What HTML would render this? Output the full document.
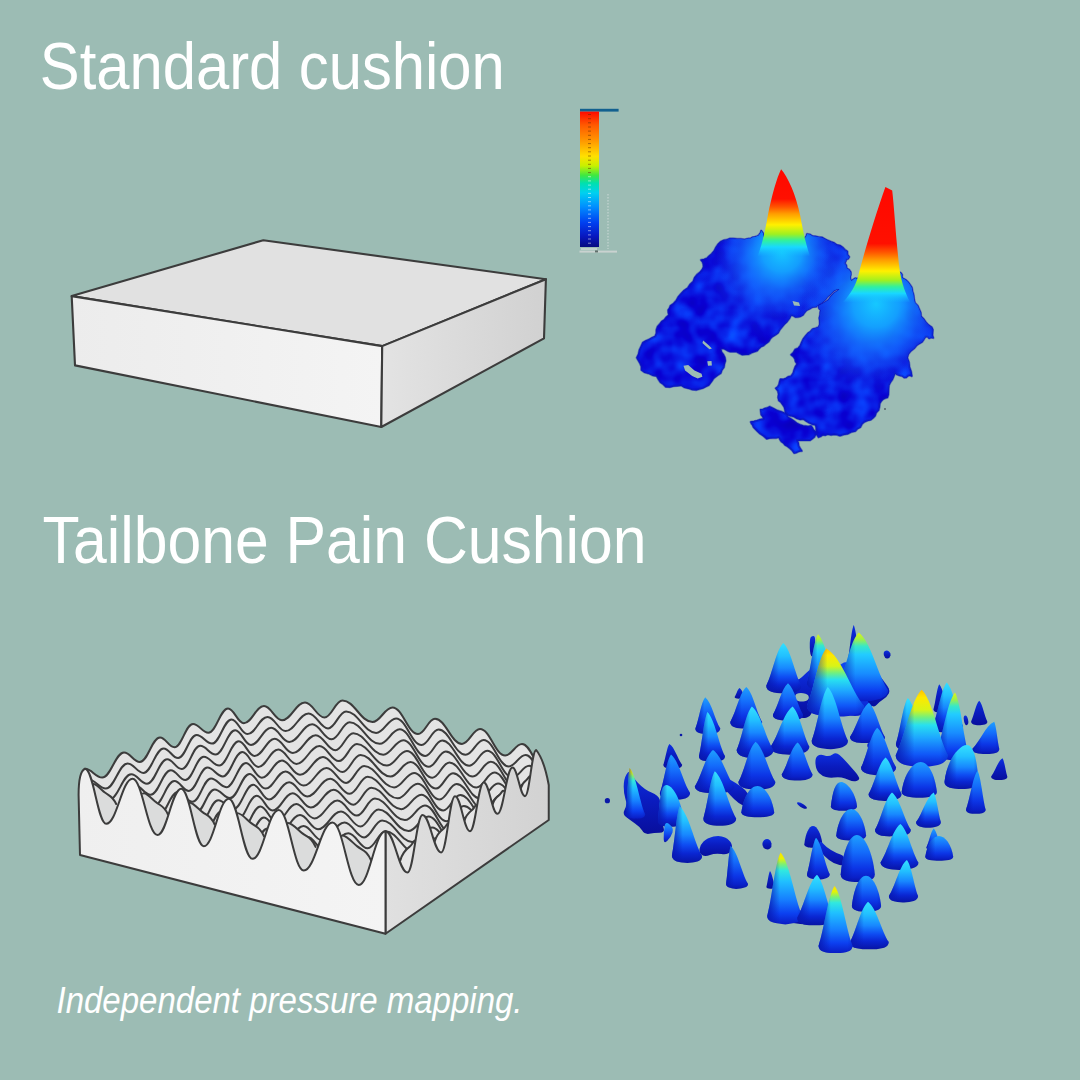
<!DOCTYPE html>
<html lang="en"><head><meta charset="utf-8"><title>Pressure mapping</title>
<style>
html,body{margin:0;padding:0;background:#9cbcb4;}
body{width:1080px;height:1080px;overflow:hidden;position:relative;font-family:"Liberation Sans",sans-serif;}
svg{position:absolute;left:0;top:0;display:block}
.t{font-family:"Liberation Sans",sans-serif;fill:#fff}
</style></head><body>
<svg width="1080" height="1080" viewBox="0 0 1080 1080">
<rect width="1080" height="1080" fill="#9cbcb4"/>
<defs>
<linearGradient id="bxr" x1="0" y1="0" x2="1" y2="0"><stop offset="0" stop-color="#e3e3e3"/><stop offset="1" stop-color="#d1d1d1"/></linearGradient>
<linearGradient id="bxf" x1="0" y1="0" x2="1" y2="0"><stop offset="0" stop-color="#ececec"/><stop offset="1" stop-color="#f4f4f4"/></linearGradient>
<linearGradient id="lg" x1="0" y1="0" x2="0" y2="1">
<stop offset="0" stop-color="#ff0a00"/><stop offset="0.10" stop-color="#ff5a00"/><stop offset="0.22" stop-color="#ff9a00"/>
<stop offset="0.33" stop-color="#ffe000"/><stop offset="0.40" stop-color="#c8f000"/><stop offset="0.47" stop-color="#40e840"/>
<stop offset="0.53" stop-color="#00e0b0"/><stop offset="0.60" stop-color="#00d0f0"/><stop offset="0.70" stop-color="#0090ff"/>
<stop offset="0.82" stop-color="#0040f0"/><stop offset="0.92" stop-color="#0818c0"/><stop offset="1" stop-color="#060a80"/></linearGradient>
<linearGradient id="pk1" gradientUnits="userSpaceOnUse" x1="0" y1="169.3" x2="0" y2="256.3">
<stop offset="0" stop-color="#ff0800"/><stop offset="0.34" stop-color="#ff1000"/><stop offset="0.436" stop-color="#ff5800"/><stop offset="0.51" stop-color="#ff9c00"/><stop offset="0.638" stop-color="#fff000"/>
<stop offset="0.745" stop-color="#a0f020"/><stop offset="0.82" stop-color="#30f0a0"/><stop offset="0.894" stop-color="#18d8ff"/><stop offset="1" stop-color="#16c0ff" stop-opacity="0"/></linearGradient>
<linearGradient id="pk2" gradientUnits="userSpaceOnUse" x1="0" y1="186.85" x2="0" y2="302.6">
<stop offset="0" stop-color="#ff0800"/><stop offset="0.49" stop-color="#ff1000"/><stop offset="0.568" stop-color="#ff5800"/><stop offset="0.632" stop-color="#ff9c00"/><stop offset="0.728" stop-color="#fff000"/>
<stop offset="0.808" stop-color="#a0f020"/><stop offset="0.864" stop-color="#30f0a0"/><stop offset="0.92" stop-color="#18d8ff"/><stop offset="1" stop-color="#16c0ff" stop-opacity="0"/></linearGradient>
<radialGradient id="gl1" gradientUnits="userSpaceOnUse" cx="782" cy="252" r="66">
<stop offset="0" stop-color="#16c8ff"/><stop offset="0.30" stop-color="#14a4ff" stop-opacity="0.95"/><stop offset="0.62" stop-color="#1470ff" stop-opacity="0.6"/><stop offset="1" stop-color="#1240f0" stop-opacity="0"/></radialGradient>
<radialGradient id="gl2" gradientUnits="userSpaceOnUse" cx="876" cy="304" r="77">
<stop offset="0" stop-color="#16c8ff"/><stop offset="0.30" stop-color="#14a4ff" stop-opacity="0.95"/><stop offset="0.62" stop-color="#1470ff" stop-opacity="0.6"/><stop offset="1" stop-color="#1240f0" stop-opacity="0"/></radialGradient>
<radialGradient id="gw1" gradientUnits="userSpaceOnUse" cx="766" cy="274" r="66"><stop offset="0" stop-color="#1a74ff" stop-opacity="0.7"/><stop offset="0.55" stop-color="#1658fa" stop-opacity="0.33"/><stop offset="1" stop-color="#1040f0" stop-opacity="0"/></radialGradient>
<radialGradient id="gw2" gradientUnits="userSpaceOnUse" cx="864" cy="330" r="72"><stop offset="0" stop-color="#1a74ff" stop-opacity="0.7"/><stop offset="0.55" stop-color="#1658fa" stop-opacity="0.33"/><stop offset="1" stop-color="#1040f0" stop-opacity="0"/></radialGradient>
<filter id="mott" x="0" y="0" width="1" height="1" color-interpolation-filters="sRGB">
<feTurbulence type="fractalNoise" baseFrequency="0.055" numOctaves="2" seed="7" result="n"/>
<feColorMatrix in="n" type="matrix" values="0 0 0 0 0.035  0.6 0 0 0 -0.215  0.4 0 0 0 0.68  0 0 0 0 1" result="c"/>
<feComposite in="c" in2="SourceGraphic" operator="in"/>
</filter>
<clipPath id="cpb"><path d="M761.2 230.7 L760.8 232.5 L759.7 233.9 L758.7 235.5 L756.9 236.2 L754.8 236.9 L752.6 237.3 L750.6 238.5 L748.3 238.6 L744.6 239.5 L740.7 239.0 L736.9 239.0 L733.1 238.6 L729.8 238.6 L726.9 239.8 L723.7 240.3 L720.8 241.7 L718.1 244.3 L715.9 247.5 L714.2 251.0 L711.7 253.9 L709.3 256.0 L707.0 258.2 L704.1 259.4 L701.0 260.0 L702.6 261.9 L703.3 264.3 L703.5 266.8 L702.5 269.2 L700.1 272.2 L697.1 274.6 L694.6 277.7 L693.3 281.4 L690.1 284.4 L687.8 288.0 L684.1 290.5 L681.1 293.6 L678.4 296.7 L676.4 300.3 L673.7 303.4 L670.4 305.8 L669.5 308.1 L668.1 310.2 L668.3 312.6 L668.9 315.0 L666.4 317.1 L664.4 319.7 L661.7 321.5 L659.7 324.2 L657.5 326.7 L656.4 329.9 L656.4 333.3 L655.1 336.4 L652.0 337.8 L649.1 339.5 L645.9 340.8 L642.9 342.5 L641.2 346.2 L639.4 350.0 L638.6 354.0 L636.8 357.8 L638.5 360.6 L640.1 363.5 L641.4 366.6 L641.4 370.0 L644.8 372.4 L648.9 373.5 L652.6 375.3 L656.7 376.1 L658.4 379.2 L660.4 382.2 L663.3 384.3 L665.8 386.8 L669.7 387.1 L673.5 386.1 L677.3 385.8 L681.1 385.3 L684.6 387.4 L688.5 388.3 L692.4 389.6 L696.4 389.9 L699.5 389.0 L702.7 388.1 L705.6 386.6 L708.6 385.3 L711.3 381.8 L713.7 378.2 L717.2 375.5 L720.8 373.1 L721.9 369.9 L723.9 367.2 L724.4 364.0 L725.4 360.8 L724.9 357.6 L723.4 354.6 L721.4 351.9 L720.8 348.6 L723.4 348.4 L725.6 349.5 L727.7 350.8 L730.0 351.7 L733.2 351.4 L736.5 351.7 L739.3 353.3 L742.2 354.7 L745.4 354.5 L748.6 354.3 L751.4 352.8 L754.4 351.7 L757.2 350.8 L759.0 348.5 L761.0 346.6 L763.6 345.6 L766.1 343.4 L768.7 341.5 L770.4 338.6 L772.8 336.4 L775.6 334.7 L778.2 332.7 L779.8 329.7 L781.9 327.2 L784.3 324.2 L787.1 321.5 L789.4 318.5 L791.1 315.0 L793.4 315.8 L795.5 317.1 L797.9 316.9 L800.3 316.5 L802.9 315.0 L804.6 312.5 L806.7 310.2 L809.4 308.9 L812.5 307.1 L816.0 306.7 L818.6 304.4 L821.7 302.8 L825.0 300.0 L827.7 296.5 L830.9 293.7 L833.9 290.6 L836.8 289.2 L839.9 288.7 L842.1 286.4 L844.6 284.4 L846.7 283.7 L848.9 284.0 L850.5 282.7 L852.2 281.4 L850.5 279.5 L850.2 277.0 L850.8 274.7 L850.7 272.2 L849.1 269.8 L846.7 268.3 L846.3 265.4 L844.6 263.1 L845.7 261.4 L846.2 259.5 L848.1 258.8 L849.2 256.9 L847.5 254.5 L847.4 251.5 L845.0 249.9 L843.1 247.8 L840.3 245.7 L836.9 244.9 L834.1 242.9 L830.8 241.7 L827.8 240.5 L824.9 239.0 L821.9 237.4 L818.6 237.1 L815.7 236.4 L812.6 236.2 L810.0 234.6 L807.0 234.0 L806.4 236.1 L805.1 237.8 L804.7 240.0 L803.3 241.7 L794.2 241.9 L785.0 242.0 L775.8 242.4 L766.7 241.7 L764.9 239.1 L763.5 236.4 L763.0 233.2Z M858.3 278.3 L857.5 278.6 L856.8 279.2 L856.2 278.4 L855.3 278.3 L852.6 280.1 L850.6 282.5 L847.4 282.8 L844.6 284.4 L841.0 287.3 L837.9 290.8 L834.0 293.2 L830.8 296.7 L828.6 299.9 L825.4 302.1 L822.0 304.0 L818.6 305.8 L819.0 308.3 L820.7 310.2 L820.2 312.6 L820.1 315.0 L819.3 318.0 L819.7 321.2 L819.8 324.3 L818.6 327.2 L815.6 328.2 L812.6 329.1 L810.5 331.5 L807.9 333.3 L805.5 336.1 L803.3 338.9 L801.7 342.2 L800.3 345.6 L798.2 348.2 L795.1 349.5 L793.5 352.4 L791.1 354.7 L793.3 356.5 L794.9 358.8 L795.5 361.6 L797.2 363.9 L795.3 366.7 L794.1 369.9 L793.1 373.3 L791.1 376.1 L788.3 376.8 L786.0 378.3 L783.3 379.3 L780.4 379.2 L779.6 381.6 L779.1 384.2 L777.9 386.6 L775.8 388.3 L777.9 390.9 L778.6 394.1 L778.1 397.4 L778.9 400.6 L781.1 402.3 L782.7 404.6 L784.3 407.0 L785.0 409.7 L785.4 412.1 L787.1 413.7 L788.8 415.3 L791.1 415.8 L794.2 416.8 L797.0 418.4 L800.1 419.4 L803.3 418.9 L806.1 420.9 L809.0 422.8 L812.2 424.2 L815.6 425.0 L816.3 428.1 L816.2 431.3 L816.7 434.6 L818.6 437.2 L820.9 436.3 L822.9 434.8 L825.4 435.2 L827.8 434.2 L830.9 434.9 L834.0 434.3 L837.1 434.7 L840.0 435.7 L843.8 434.5 L847.8 433.8 L851.3 431.9 L855.3 431.1 L857.5 428.6 L860.4 427.1 L861.9 424.1 L864.4 421.9 L867.3 420.6 L870.4 419.9 L872.9 418.0 L875.1 415.8 L876.2 412.6 L878.6 410.1 L879.4 406.9 L879.7 403.6 L881.0 401.4 L882.7 399.5 L884.9 398.2 L887.4 397.5 L888.4 394.6 L888.5 391.4 L888.6 388.4 L888.9 385.3 L890.4 382.2 L892.4 379.4 L893.7 376.2 L895.0 373.1 L897.1 374.5 L899.6 375.4 L902.2 375.9 L904.2 377.6 L906.3 377.4 L907.8 375.9 L909.8 375.2 L911.8 376.1 L911.0 371.4 L909.4 367.0 L908.9 362.2 L907.2 357.8 L908.3 354.0 L910.8 350.9 L913.9 348.6 L916.4 345.6 L919.1 343.6 L922.0 342.0 L923.9 339.2 L925.6 336.4 L927.7 336.7 L929.1 338.3 L931.1 337.4 L933.2 337.9 L932.4 335.3 L932.6 332.5 L932.8 329.8 L931.7 327.2 L928.5 325.1 L925.9 322.3 L923.7 319.2 L921.0 316.5 L920.7 312.7 L919.1 309.1 L917.6 305.6 L914.9 302.8 L914.0 299.0 L913.6 295.1 L912.5 291.3 L911.8 287.5 L910.0 284.8 L908.1 282.1 L905.6 279.8 L902.6 278.3 L901.8 276.6 L902.1 274.8 L901.1 273.2 L899.6 272.2 L889.2 273.3 L879.0 275.3 L868.6 276.2Z M760.6 409.7 L763.0 409.4 L765.2 408.4 L767.6 407.8 L769.7 406.7 L773.5 408.6 L777.2 410.5 L781.2 411.7 L785.0 413.4 L786.7 414.7 L787.7 416.6 L789.3 417.9 L791.1 418.9 L794.0 421.0 L796.8 423.2 L800.0 424.8 L803.3 425.9 L805.3 426.0 L807.2 426.4 L809.1 426.4 L811.0 425.9 L812.4 427.8 L813.4 429.8 L815.1 431.5 L817.1 432.6 L815.5 434.7 L814.3 437.1 L812.2 438.8 L810.1 440.3 L806.8 440.3 L803.6 440.3 L800.4 440.1 L797.2 440.3 L798.3 443.0 L798.7 446.0 L800.2 448.5 L801.8 451.0 L799.8 451.1 L797.9 451.8 L796.1 452.7 L794.2 453.1 L792.4 450.6 L790.1 448.4 L787.7 446.5 L785.0 444.9 L783.4 442.9 L781.3 441.5 L780.0 439.5 L778.9 437.2 L775.9 438.0 L772.8 438.0 L769.7 438.1 L766.7 438.8 L763.6 436.0 L760.2 433.8 L757.3 431.0 L754.4 428.1 L753.2 426.7 L752.7 425.0 L751.5 423.6 L750.8 421.9 L754.0 421.4 L757.2 420.6 L760.4 419.5 L763.6 418.9 L762.8 416.5 L761.2 414.6 L760.9 412.2Z"/></clipPath>
<linearGradient id="egt" gradientUnits="userSpaceOnUse" x1="0" y1="0" x2="0" y2="60"><stop offset="0" stop-color="#e9e9e9"/><stop offset="0.3" stop-color="#e3e3e3"/><stop offset="1" stop-color="#cfd2d2"/></linearGradient>
<linearGradient id="egr" x1="0" y1="0" x2="1" y2="0"><stop offset="0" stop-color="#e0e0e0"/><stop offset="1" stop-color="#d2d2d2"/></linearGradient>
<linearGradient id="egf" x1="0" y1="0" x2="1" y2="0"><stop offset="0" stop-color="#efefef"/><stop offset="1" stop-color="#f4f4f4"/></linearGradient>
<clipPath id="egclip"><path d="M78.8 600 L78.8 795 L80 855 L385.5 933.75 L548.75 820 L548.75 785 L543 764 L536.25 750 L536.25 600Z"/></clipPath>
<linearGradient id="cc" x1="0" y1="0" x2="0" y2="1"><stop offset="0" stop-color="#34e0ff"/><stop offset="0.26" stop-color="#22c0ff"/><stop offset="0.50" stop-color="#1888ff"/><stop offset="0.68" stop-color="#0e4cf2"/><stop offset="0.83" stop-color="#0a26d2"/><stop offset="1" stop-color="#0814a4"/></linearGradient>
<linearGradient id="cb" x1="0" y1="0" x2="0" y2="1"><stop offset="0" stop-color="#1ea0ff"/><stop offset="0.36" stop-color="#146cfb"/><stop offset="0.70" stop-color="#0c36e6"/><stop offset="0.9" stop-color="#0a20c8"/><stop offset="1" stop-color="#0816a8"/></linearGradient>
<linearGradient id="cy" x1="0" y1="0" x2="0" y2="1"><stop offset="0" stop-color="#ffe000"/><stop offset="0.08" stop-color="#e8f400"/><stop offset="0.16" stop-color="#80f070"/><stop offset="0.25" stop-color="#30e8e0"/><stop offset="0.40" stop-color="#20c0ff"/><stop offset="0.65" stop-color="#1680ff"/><stop offset="0.85" stop-color="#0c40f0"/><stop offset="1" stop-color="#0a1cc4"/></linearGradient>
<linearGradient id="cY" x1="0" y1="0" x2="0" y2="1"><stop offset="0" stop-color="#ffc000"/><stop offset="0.10" stop-color="#ffe800"/><stop offset="0.26" stop-color="#d8f418"/><stop offset="0.36" stop-color="#70f080"/><stop offset="0.46" stop-color="#28e0f0"/><stop offset="0.62" stop-color="#1ea8ff"/><stop offset="0.84" stop-color="#1058f8"/><stop offset="1" stop-color="#0a20d0"/></linearGradient>
<linearGradient id="cg" x1="0" y1="0" x2="0" y2="1"><stop offset="0" stop-color="#e0f418"/><stop offset="0.10" stop-color="#a0f048"/><stop offset="0.20" stop-color="#38e8c8"/><stop offset="0.32" stop-color="#22ccff"/><stop offset="0.60" stop-color="#188cff"/><stop offset="0.84" stop-color="#0c40f0"/><stop offset="1" stop-color="#0a1cc4"/></linearGradient>
<linearGradient id="cm" x1="0" y1="0" x2="0" y2="1"><stop offset="0" stop-color="#1048f0"/><stop offset="0.5" stop-color="#0e3cec"/><stop offset="1" stop-color="#0a20c8"/></linearGradient>
<linearGradient id="cd" x1="0" y1="0" x2="0" y2="1"><stop offset="0" stop-color="#0c30e0"/><stop offset="0.45" stop-color="#0a1cc0"/><stop offset="1" stop-color="#080e9c"/></linearGradient>
<linearGradient id="csh" x1="0" y1="0" x2="1" y2="0"><stop offset="0" stop-color="#0818b0" stop-opacity="0.88"/><stop offset="0.16" stop-color="#0818b0" stop-opacity="0.5"/><stop offset="0.36" stop-color="#0818b0" stop-opacity="0"/><stop offset="0.85" stop-color="#0818b0" stop-opacity="0"/><stop offset="1" stop-color="#0818b0" stop-opacity="0.3"/></linearGradient>
</defs>
<text class="t" x="39.8" y="89.3" font-size="66" textLength="465" lengthAdjust="spacingAndGlyphs">Standard cushion</text>
<text class="t" x="42.6" y="562.8" font-size="66" textLength="604" lengthAdjust="spacingAndGlyphs">Tailbone Pain Cushion</text>
<text class="t" x="56.5" y="1013" font-size="36" font-style="italic" textLength="466" lengthAdjust="spacingAndGlyphs">Independent pressure mapping.</text>
<g stroke="#3c3c3c" stroke-width="2.1" stroke-linejoin="round">
<polygon points="71.7,296.1 263.3,240.2 545.9,279.2 382.2,346.1" fill="#e1e1e1"/>
<polygon points="71.7,296.1 382.2,346.1 381.3,427.0 75.0,365.4" fill="url(#bxf)"/>
<polygon points="382.2,346.1 545.9,279.2 544.0,338.4 381.3,427.0" fill="url(#bxr)"/>
</g>
<g>
<rect x="580" y="108.8" width="38.6" height="2.8" fill="#12608f"/>
<rect x="580" y="111.6" width="19" height="135.4" fill="url(#lg)"/>
<rect x="588" y="114.0" width="3" height="1" fill="#5a2a00" opacity="0.5"/><rect x="588" y="118.2" width="3" height="1" fill="#5a2a00" opacity="0.5"/><rect x="588" y="122.3" width="3" height="1" fill="#5a2a00" opacity="0.5"/><rect x="588" y="126.5" width="3" height="1" fill="#5a2a00" opacity="0.5"/><rect x="588" y="130.6" width="3" height="1" fill="#5a2a00" opacity="0.5"/><rect x="588" y="134.8" width="3" height="1" fill="#5a2a00" opacity="0.5"/><rect x="588" y="138.9" width="3" height="1" fill="#5a2a00" opacity="0.5"/><rect x="588" y="143.1" width="3" height="1" fill="#5a2a00" opacity="0.5"/><rect x="588" y="147.2" width="3" height="1" fill="#5a2a00" opacity="0.5"/><rect x="588" y="151.3" width="3" height="1" fill="#5a2a00" opacity="0.5"/><rect x="588" y="155.5" width="3" height="1" fill="#5a2a00" opacity="0.5"/><rect x="588" y="159.7" width="3" height="1" fill="#5a2a00" opacity="0.5"/><rect x="588" y="163.8" width="3" height="1" fill="#5a2a00" opacity="0.5"/><rect x="588" y="167.9" width="3" height="1" fill="#5a2a00" opacity="0.5"/><rect x="588" y="172.1" width="3" height="1" fill="#5a2a00" opacity="0.5"/><rect x="588" y="176.2" width="3" height="1" fill="#fff" opacity="0.5"/><rect x="588" y="180.4" width="3" height="1" fill="#fff" opacity="0.5"/><rect x="588" y="184.6" width="3" height="1" fill="#fff" opacity="0.5"/><rect x="588" y="188.7" width="3" height="1" fill="#fff" opacity="0.5"/><rect x="588" y="192.9" width="3" height="1" fill="#fff" opacity="0.5"/><rect x="588" y="197.0" width="3" height="1" fill="#fff" opacity="0.5"/><rect x="588" y="201.2" width="3" height="1" fill="#fff" opacity="0.5"/><rect x="588" y="205.3" width="3" height="1" fill="#fff" opacity="0.5"/><rect x="588" y="209.4" width="3" height="1" fill="#fff" opacity="0.5"/><rect x="588" y="213.6" width="3" height="1" fill="#fff" opacity="0.5"/><rect x="588" y="217.8" width="3" height="1" fill="#fff" opacity="0.5"/><rect x="588" y="221.9" width="3" height="1" fill="#fff" opacity="0.5"/><rect x="588" y="226.1" width="3" height="1" fill="#fff" opacity="0.5"/><rect x="588" y="230.2" width="3" height="1" fill="#fff" opacity="0.5"/><rect x="588" y="234.4" width="3" height="1" fill="#fff" opacity="0.5"/><rect x="588" y="238.5" width="3" height="1" fill="#fff" opacity="0.5"/><rect x="588" y="242.7" width="3" height="1" fill="#fff" opacity="0.5"/>
<line x1="608" y1="194" x2="608" y2="249" stroke="#e8eeee" stroke-width="0.8" stroke-dasharray="1.5 1.5" opacity="0.8"/>
<rect x="579.5" y="250.6" width="37.5" height="2" fill="#c9d2d0"/>
<rect x="581" y="248.2" width="16" height="1.6" fill="#d4dcda" opacity="0.8"/>
<rect x="595" y="250.4" width="3" height="2" fill="#60706c"/>
</g>
<g>
<path d="M761.2 230.7 L760.8 232.5 L759.7 233.9 L758.7 235.5 L756.9 236.2 L754.8 236.9 L752.6 237.3 L750.6 238.5 L748.3 238.6 L744.6 239.5 L740.7 239.0 L736.9 239.0 L733.1 238.6 L729.8 238.6 L726.9 239.8 L723.7 240.3 L720.8 241.7 L718.1 244.3 L715.9 247.5 L714.2 251.0 L711.7 253.9 L709.3 256.0 L707.0 258.2 L704.1 259.4 L701.0 260.0 L702.6 261.9 L703.3 264.3 L703.5 266.8 L702.5 269.2 L700.1 272.2 L697.1 274.6 L694.6 277.7 L693.3 281.4 L690.1 284.4 L687.8 288.0 L684.1 290.5 L681.1 293.6 L678.4 296.7 L676.4 300.3 L673.7 303.4 L670.4 305.8 L669.5 308.1 L668.1 310.2 L668.3 312.6 L668.9 315.0 L666.4 317.1 L664.4 319.7 L661.7 321.5 L659.7 324.2 L657.5 326.7 L656.4 329.9 L656.4 333.3 L655.1 336.4 L652.0 337.8 L649.1 339.5 L645.9 340.8 L642.9 342.5 L641.2 346.2 L639.4 350.0 L638.6 354.0 L636.8 357.8 L638.5 360.6 L640.1 363.5 L641.4 366.6 L641.4 370.0 L644.8 372.4 L648.9 373.5 L652.6 375.3 L656.7 376.1 L658.4 379.2 L660.4 382.2 L663.3 384.3 L665.8 386.8 L669.7 387.1 L673.5 386.1 L677.3 385.8 L681.1 385.3 L684.6 387.4 L688.5 388.3 L692.4 389.6 L696.4 389.9 L699.5 389.0 L702.7 388.1 L705.6 386.6 L708.6 385.3 L711.3 381.8 L713.7 378.2 L717.2 375.5 L720.8 373.1 L721.9 369.9 L723.9 367.2 L724.4 364.0 L725.4 360.8 L724.9 357.6 L723.4 354.6 L721.4 351.9 L720.8 348.6 L723.4 348.4 L725.6 349.5 L727.7 350.8 L730.0 351.7 L733.2 351.4 L736.5 351.7 L739.3 353.3 L742.2 354.7 L745.4 354.5 L748.6 354.3 L751.4 352.8 L754.4 351.7 L757.2 350.8 L759.0 348.5 L761.0 346.6 L763.6 345.6 L766.1 343.4 L768.7 341.5 L770.4 338.6 L772.8 336.4 L775.6 334.7 L778.2 332.7 L779.8 329.7 L781.9 327.2 L784.3 324.2 L787.1 321.5 L789.4 318.5 L791.1 315.0 L793.4 315.8 L795.5 317.1 L797.9 316.9 L800.3 316.5 L802.9 315.0 L804.6 312.5 L806.7 310.2 L809.4 308.9 L812.5 307.1 L816.0 306.7 L818.6 304.4 L821.7 302.8 L825.0 300.0 L827.7 296.5 L830.9 293.7 L833.9 290.6 L836.8 289.2 L839.9 288.7 L842.1 286.4 L844.6 284.4 L846.7 283.7 L848.9 284.0 L850.5 282.7 L852.2 281.4 L850.5 279.5 L850.2 277.0 L850.8 274.7 L850.7 272.2 L849.1 269.8 L846.7 268.3 L846.3 265.4 L844.6 263.1 L845.7 261.4 L846.2 259.5 L848.1 258.8 L849.2 256.9 L847.5 254.5 L847.4 251.5 L845.0 249.9 L843.1 247.8 L840.3 245.7 L836.9 244.9 L834.1 242.9 L830.8 241.7 L827.8 240.5 L824.9 239.0 L821.9 237.4 L818.6 237.1 L815.7 236.4 L812.6 236.2 L810.0 234.6 L807.0 234.0 L806.4 236.1 L805.1 237.8 L804.7 240.0 L803.3 241.7 L794.2 241.9 L785.0 242.0 L775.8 242.4 L766.7 241.7 L764.9 239.1 L763.5 236.4 L763.0 233.2Z M858.3 278.3 L857.5 278.6 L856.8 279.2 L856.2 278.4 L855.3 278.3 L852.6 280.1 L850.6 282.5 L847.4 282.8 L844.6 284.4 L841.0 287.3 L837.9 290.8 L834.0 293.2 L830.8 296.7 L828.6 299.9 L825.4 302.1 L822.0 304.0 L818.6 305.8 L819.0 308.3 L820.7 310.2 L820.2 312.6 L820.1 315.0 L819.3 318.0 L819.7 321.2 L819.8 324.3 L818.6 327.2 L815.6 328.2 L812.6 329.1 L810.5 331.5 L807.9 333.3 L805.5 336.1 L803.3 338.9 L801.7 342.2 L800.3 345.6 L798.2 348.2 L795.1 349.5 L793.5 352.4 L791.1 354.7 L793.3 356.5 L794.9 358.8 L795.5 361.6 L797.2 363.9 L795.3 366.7 L794.1 369.9 L793.1 373.3 L791.1 376.1 L788.3 376.8 L786.0 378.3 L783.3 379.3 L780.4 379.2 L779.6 381.6 L779.1 384.2 L777.9 386.6 L775.8 388.3 L777.9 390.9 L778.6 394.1 L778.1 397.4 L778.9 400.6 L781.1 402.3 L782.7 404.6 L784.3 407.0 L785.0 409.7 L785.4 412.1 L787.1 413.7 L788.8 415.3 L791.1 415.8 L794.2 416.8 L797.0 418.4 L800.1 419.4 L803.3 418.9 L806.1 420.9 L809.0 422.8 L812.2 424.2 L815.6 425.0 L816.3 428.1 L816.2 431.3 L816.7 434.6 L818.6 437.2 L820.9 436.3 L822.9 434.8 L825.4 435.2 L827.8 434.2 L830.9 434.9 L834.0 434.3 L837.1 434.7 L840.0 435.7 L843.8 434.5 L847.8 433.8 L851.3 431.9 L855.3 431.1 L857.5 428.6 L860.4 427.1 L861.9 424.1 L864.4 421.9 L867.3 420.6 L870.4 419.9 L872.9 418.0 L875.1 415.8 L876.2 412.6 L878.6 410.1 L879.4 406.9 L879.7 403.6 L881.0 401.4 L882.7 399.5 L884.9 398.2 L887.4 397.5 L888.4 394.6 L888.5 391.4 L888.6 388.4 L888.9 385.3 L890.4 382.2 L892.4 379.4 L893.7 376.2 L895.0 373.1 L897.1 374.5 L899.6 375.4 L902.2 375.9 L904.2 377.6 L906.3 377.4 L907.8 375.9 L909.8 375.2 L911.8 376.1 L911.0 371.4 L909.4 367.0 L908.9 362.2 L907.2 357.8 L908.3 354.0 L910.8 350.9 L913.9 348.6 L916.4 345.6 L919.1 343.6 L922.0 342.0 L923.9 339.2 L925.6 336.4 L927.7 336.7 L929.1 338.3 L931.1 337.4 L933.2 337.9 L932.4 335.3 L932.6 332.5 L932.8 329.8 L931.7 327.2 L928.5 325.1 L925.9 322.3 L923.7 319.2 L921.0 316.5 L920.7 312.7 L919.1 309.1 L917.6 305.6 L914.9 302.8 L914.0 299.0 L913.6 295.1 L912.5 291.3 L911.8 287.5 L910.0 284.8 L908.1 282.1 L905.6 279.8 L902.6 278.3 L901.8 276.6 L902.1 274.8 L901.1 273.2 L899.6 272.2 L889.2 273.3 L879.0 275.3 L868.6 276.2Z M760.6 409.7 L763.0 409.4 L765.2 408.4 L767.6 407.8 L769.7 406.7 L773.5 408.6 L777.2 410.5 L781.2 411.7 L785.0 413.4 L786.7 414.7 L787.7 416.6 L789.3 417.9 L791.1 418.9 L794.0 421.0 L796.8 423.2 L800.0 424.8 L803.3 425.9 L805.3 426.0 L807.2 426.4 L809.1 426.4 L811.0 425.9 L812.4 427.8 L813.4 429.8 L815.1 431.5 L817.1 432.6 L815.5 434.7 L814.3 437.1 L812.2 438.8 L810.1 440.3 L806.8 440.3 L803.6 440.3 L800.4 440.1 L797.2 440.3 L798.3 443.0 L798.7 446.0 L800.2 448.5 L801.8 451.0 L799.8 451.1 L797.9 451.8 L796.1 452.7 L794.2 453.1 L792.4 450.6 L790.1 448.4 L787.7 446.5 L785.0 444.9 L783.4 442.9 L781.3 441.5 L780.0 439.5 L778.9 437.2 L775.9 438.0 L772.8 438.0 L769.7 438.1 L766.7 438.8 L763.6 436.0 L760.2 433.8 L757.3 431.0 L754.4 428.1 L753.2 426.7 L752.7 425.0 L751.5 423.6 L750.8 421.9 L754.0 421.4 L757.2 420.6 L760.4 419.5 L763.6 418.9 L762.8 416.5 L761.2 414.6 L760.9 412.2Z" fill="#0a18c8" stroke="#0a18c8" stroke-width="1.2" stroke-linejoin="round"/>
<path d="M761.2 230.7 L760.8 232.5 L759.7 233.9 L758.7 235.5 L756.9 236.2 L754.8 236.9 L752.6 237.3 L750.6 238.5 L748.3 238.6 L744.6 239.5 L740.7 239.0 L736.9 239.0 L733.1 238.6 L729.8 238.6 L726.9 239.8 L723.7 240.3 L720.8 241.7 L718.1 244.3 L715.9 247.5 L714.2 251.0 L711.7 253.9 L709.3 256.0 L707.0 258.2 L704.1 259.4 L701.0 260.0 L702.6 261.9 L703.3 264.3 L703.5 266.8 L702.5 269.2 L700.1 272.2 L697.1 274.6 L694.6 277.7 L693.3 281.4 L690.1 284.4 L687.8 288.0 L684.1 290.5 L681.1 293.6 L678.4 296.7 L676.4 300.3 L673.7 303.4 L670.4 305.8 L669.5 308.1 L668.1 310.2 L668.3 312.6 L668.9 315.0 L666.4 317.1 L664.4 319.7 L661.7 321.5 L659.7 324.2 L657.5 326.7 L656.4 329.9 L656.4 333.3 L655.1 336.4 L652.0 337.8 L649.1 339.5 L645.9 340.8 L642.9 342.5 L641.2 346.2 L639.4 350.0 L638.6 354.0 L636.8 357.8 L638.5 360.6 L640.1 363.5 L641.4 366.6 L641.4 370.0 L644.8 372.4 L648.9 373.5 L652.6 375.3 L656.7 376.1 L658.4 379.2 L660.4 382.2 L663.3 384.3 L665.8 386.8 L669.7 387.1 L673.5 386.1 L677.3 385.8 L681.1 385.3 L684.6 387.4 L688.5 388.3 L692.4 389.6 L696.4 389.9 L699.5 389.0 L702.7 388.1 L705.6 386.6 L708.6 385.3 L711.3 381.8 L713.7 378.2 L717.2 375.5 L720.8 373.1 L721.9 369.9 L723.9 367.2 L724.4 364.0 L725.4 360.8 L724.9 357.6 L723.4 354.6 L721.4 351.9 L720.8 348.6 L723.4 348.4 L725.6 349.5 L727.7 350.8 L730.0 351.7 L733.2 351.4 L736.5 351.7 L739.3 353.3 L742.2 354.7 L745.4 354.5 L748.6 354.3 L751.4 352.8 L754.4 351.7 L757.2 350.8 L759.0 348.5 L761.0 346.6 L763.6 345.6 L766.1 343.4 L768.7 341.5 L770.4 338.6 L772.8 336.4 L775.6 334.7 L778.2 332.7 L779.8 329.7 L781.9 327.2 L784.3 324.2 L787.1 321.5 L789.4 318.5 L791.1 315.0 L793.4 315.8 L795.5 317.1 L797.9 316.9 L800.3 316.5 L802.9 315.0 L804.6 312.5 L806.7 310.2 L809.4 308.9 L812.5 307.1 L816.0 306.7 L818.6 304.4 L821.7 302.8 L825.0 300.0 L827.7 296.5 L830.9 293.7 L833.9 290.6 L836.8 289.2 L839.9 288.7 L842.1 286.4 L844.6 284.4 L846.7 283.7 L848.9 284.0 L850.5 282.7 L852.2 281.4 L850.5 279.5 L850.2 277.0 L850.8 274.7 L850.7 272.2 L849.1 269.8 L846.7 268.3 L846.3 265.4 L844.6 263.1 L845.7 261.4 L846.2 259.5 L848.1 258.8 L849.2 256.9 L847.5 254.5 L847.4 251.5 L845.0 249.9 L843.1 247.8 L840.3 245.7 L836.9 244.9 L834.1 242.9 L830.8 241.7 L827.8 240.5 L824.9 239.0 L821.9 237.4 L818.6 237.1 L815.7 236.4 L812.6 236.2 L810.0 234.6 L807.0 234.0 L806.4 236.1 L805.1 237.8 L804.7 240.0 L803.3 241.7 L794.2 241.9 L785.0 242.0 L775.8 242.4 L766.7 241.7 L764.9 239.1 L763.5 236.4 L763.0 233.2Z M858.3 278.3 L857.5 278.6 L856.8 279.2 L856.2 278.4 L855.3 278.3 L852.6 280.1 L850.6 282.5 L847.4 282.8 L844.6 284.4 L841.0 287.3 L837.9 290.8 L834.0 293.2 L830.8 296.7 L828.6 299.9 L825.4 302.1 L822.0 304.0 L818.6 305.8 L819.0 308.3 L820.7 310.2 L820.2 312.6 L820.1 315.0 L819.3 318.0 L819.7 321.2 L819.8 324.3 L818.6 327.2 L815.6 328.2 L812.6 329.1 L810.5 331.5 L807.9 333.3 L805.5 336.1 L803.3 338.9 L801.7 342.2 L800.3 345.6 L798.2 348.2 L795.1 349.5 L793.5 352.4 L791.1 354.7 L793.3 356.5 L794.9 358.8 L795.5 361.6 L797.2 363.9 L795.3 366.7 L794.1 369.9 L793.1 373.3 L791.1 376.1 L788.3 376.8 L786.0 378.3 L783.3 379.3 L780.4 379.2 L779.6 381.6 L779.1 384.2 L777.9 386.6 L775.8 388.3 L777.9 390.9 L778.6 394.1 L778.1 397.4 L778.9 400.6 L781.1 402.3 L782.7 404.6 L784.3 407.0 L785.0 409.7 L785.4 412.1 L787.1 413.7 L788.8 415.3 L791.1 415.8 L794.2 416.8 L797.0 418.4 L800.1 419.4 L803.3 418.9 L806.1 420.9 L809.0 422.8 L812.2 424.2 L815.6 425.0 L816.3 428.1 L816.2 431.3 L816.7 434.6 L818.6 437.2 L820.9 436.3 L822.9 434.8 L825.4 435.2 L827.8 434.2 L830.9 434.9 L834.0 434.3 L837.1 434.7 L840.0 435.7 L843.8 434.5 L847.8 433.8 L851.3 431.9 L855.3 431.1 L857.5 428.6 L860.4 427.1 L861.9 424.1 L864.4 421.9 L867.3 420.6 L870.4 419.9 L872.9 418.0 L875.1 415.8 L876.2 412.6 L878.6 410.1 L879.4 406.9 L879.7 403.6 L881.0 401.4 L882.7 399.5 L884.9 398.2 L887.4 397.5 L888.4 394.6 L888.5 391.4 L888.6 388.4 L888.9 385.3 L890.4 382.2 L892.4 379.4 L893.7 376.2 L895.0 373.1 L897.1 374.5 L899.6 375.4 L902.2 375.9 L904.2 377.6 L906.3 377.4 L907.8 375.9 L909.8 375.2 L911.8 376.1 L911.0 371.4 L909.4 367.0 L908.9 362.2 L907.2 357.8 L908.3 354.0 L910.8 350.9 L913.9 348.6 L916.4 345.6 L919.1 343.6 L922.0 342.0 L923.9 339.2 L925.6 336.4 L927.7 336.7 L929.1 338.3 L931.1 337.4 L933.2 337.9 L932.4 335.3 L932.6 332.5 L932.8 329.8 L931.7 327.2 L928.5 325.1 L925.9 322.3 L923.7 319.2 L921.0 316.5 L920.7 312.7 L919.1 309.1 L917.6 305.6 L914.9 302.8 L914.0 299.0 L913.6 295.1 L912.5 291.3 L911.8 287.5 L910.0 284.8 L908.1 282.1 L905.6 279.8 L902.6 278.3 L901.8 276.6 L902.1 274.8 L901.1 273.2 L899.6 272.2 L889.2 273.3 L879.0 275.3 L868.6 276.2Z M760.6 409.7 L763.0 409.4 L765.2 408.4 L767.6 407.8 L769.7 406.7 L773.5 408.6 L777.2 410.5 L781.2 411.7 L785.0 413.4 L786.7 414.7 L787.7 416.6 L789.3 417.9 L791.1 418.9 L794.0 421.0 L796.8 423.2 L800.0 424.8 L803.3 425.9 L805.3 426.0 L807.2 426.4 L809.1 426.4 L811.0 425.9 L812.4 427.8 L813.4 429.8 L815.1 431.5 L817.1 432.6 L815.5 434.7 L814.3 437.1 L812.2 438.8 L810.1 440.3 L806.8 440.3 L803.6 440.3 L800.4 440.1 L797.2 440.3 L798.3 443.0 L798.7 446.0 L800.2 448.5 L801.8 451.0 L799.8 451.1 L797.9 451.8 L796.1 452.7 L794.2 453.1 L792.4 450.6 L790.1 448.4 L787.7 446.5 L785.0 444.9 L783.4 442.9 L781.3 441.5 L780.0 439.5 L778.9 437.2 L775.9 438.0 L772.8 438.0 L769.7 438.1 L766.7 438.8 L763.6 436.0 L760.2 433.8 L757.3 431.0 L754.4 428.1 L753.2 426.7 L752.7 425.0 L751.5 423.6 L750.8 421.9 L754.0 421.4 L757.2 420.6 L760.4 419.5 L763.6 418.9 L762.8 416.5 L761.2 414.6 L760.9 412.2Z" fill="#0b22e0" filter="url(#mott)"/>
<path d="M761.2 230.7 L760.8 232.5 L759.7 233.9 L758.7 235.5 L756.9 236.2 L754.8 236.9 L752.6 237.3 L750.6 238.5 L748.3 238.6 L744.6 239.5 L740.7 239.0 L736.9 239.0 L733.1 238.6 L729.8 238.6 L726.9 239.8 L723.7 240.3 L720.8 241.7 L718.1 244.3 L715.9 247.5 L714.2 251.0 L711.7 253.9 L709.3 256.0 L707.0 258.2 L704.1 259.4 L701.0 260.0 L702.6 261.9 L703.3 264.3 L703.5 266.8 L702.5 269.2 L700.1 272.2 L697.1 274.6 L694.6 277.7 L693.3 281.4 L690.1 284.4 L687.8 288.0 L684.1 290.5 L681.1 293.6 L678.4 296.7 L676.4 300.3 L673.7 303.4 L670.4 305.8 L669.5 308.1 L668.1 310.2 L668.3 312.6 L668.9 315.0 L666.4 317.1 L664.4 319.7 L661.7 321.5 L659.7 324.2 L657.5 326.7 L656.4 329.9 L656.4 333.3 L655.1 336.4 L652.0 337.8 L649.1 339.5 L645.9 340.8 L642.9 342.5 L641.2 346.2 L639.4 350.0 L638.6 354.0 L636.8 357.8 L638.5 360.6 L640.1 363.5 L641.4 366.6 L641.4 370.0 L644.8 372.4 L648.9 373.5 L652.6 375.3 L656.7 376.1 L658.4 379.2 L660.4 382.2 L663.3 384.3 L665.8 386.8 L669.7 387.1 L673.5 386.1 L677.3 385.8 L681.1 385.3 L684.6 387.4 L688.5 388.3 L692.4 389.6 L696.4 389.9 L699.5 389.0 L702.7 388.1 L705.6 386.6 L708.6 385.3 L711.3 381.8 L713.7 378.2 L717.2 375.5 L720.8 373.1 L721.9 369.9 L723.9 367.2 L724.4 364.0 L725.4 360.8 L724.9 357.6 L723.4 354.6 L721.4 351.9 L720.8 348.6 L723.4 348.4 L725.6 349.5 L727.7 350.8 L730.0 351.7 L733.2 351.4 L736.5 351.7 L739.3 353.3 L742.2 354.7 L745.4 354.5 L748.6 354.3 L751.4 352.8 L754.4 351.7 L757.2 350.8 L759.0 348.5 L761.0 346.6 L763.6 345.6 L766.1 343.4 L768.7 341.5 L770.4 338.6 L772.8 336.4 L775.6 334.7 L778.2 332.7 L779.8 329.7 L781.9 327.2 L784.3 324.2 L787.1 321.5 L789.4 318.5 L791.1 315.0 L793.4 315.8 L795.5 317.1 L797.9 316.9 L800.3 316.5 L802.9 315.0 L804.6 312.5 L806.7 310.2 L809.4 308.9 L812.5 307.1 L816.0 306.7 L818.6 304.4 L821.7 302.8 L825.0 300.0 L827.7 296.5 L830.9 293.7 L833.9 290.6 L836.8 289.2 L839.9 288.7 L842.1 286.4 L844.6 284.4 L846.7 283.7 L848.9 284.0 L850.5 282.7 L852.2 281.4 L850.5 279.5 L850.2 277.0 L850.8 274.7 L850.7 272.2 L849.1 269.8 L846.7 268.3 L846.3 265.4 L844.6 263.1 L845.7 261.4 L846.2 259.5 L848.1 258.8 L849.2 256.9 L847.5 254.5 L847.4 251.5 L845.0 249.9 L843.1 247.8 L840.3 245.7 L836.9 244.9 L834.1 242.9 L830.8 241.7 L827.8 240.5 L824.9 239.0 L821.9 237.4 L818.6 237.1 L815.7 236.4 L812.6 236.2 L810.0 234.6 L807.0 234.0 L806.4 236.1 L805.1 237.8 L804.7 240.0 L803.3 241.7 L794.2 241.9 L785.0 242.0 L775.8 242.4 L766.7 241.7 L764.9 239.1 L763.5 236.4 L763.0 233.2Z M858.3 278.3 L857.5 278.6 L856.8 279.2 L856.2 278.4 L855.3 278.3 L852.6 280.1 L850.6 282.5 L847.4 282.8 L844.6 284.4 L841.0 287.3 L837.9 290.8 L834.0 293.2 L830.8 296.7 L828.6 299.9 L825.4 302.1 L822.0 304.0 L818.6 305.8 L819.0 308.3 L820.7 310.2 L820.2 312.6 L820.1 315.0 L819.3 318.0 L819.7 321.2 L819.8 324.3 L818.6 327.2 L815.6 328.2 L812.6 329.1 L810.5 331.5 L807.9 333.3 L805.5 336.1 L803.3 338.9 L801.7 342.2 L800.3 345.6 L798.2 348.2 L795.1 349.5 L793.5 352.4 L791.1 354.7 L793.3 356.5 L794.9 358.8 L795.5 361.6 L797.2 363.9 L795.3 366.7 L794.1 369.9 L793.1 373.3 L791.1 376.1 L788.3 376.8 L786.0 378.3 L783.3 379.3 L780.4 379.2 L779.6 381.6 L779.1 384.2 L777.9 386.6 L775.8 388.3 L777.9 390.9 L778.6 394.1 L778.1 397.4 L778.9 400.6 L781.1 402.3 L782.7 404.6 L784.3 407.0 L785.0 409.7 L785.4 412.1 L787.1 413.7 L788.8 415.3 L791.1 415.8 L794.2 416.8 L797.0 418.4 L800.1 419.4 L803.3 418.9 L806.1 420.9 L809.0 422.8 L812.2 424.2 L815.6 425.0 L816.3 428.1 L816.2 431.3 L816.7 434.6 L818.6 437.2 L820.9 436.3 L822.9 434.8 L825.4 435.2 L827.8 434.2 L830.9 434.9 L834.0 434.3 L837.1 434.7 L840.0 435.7 L843.8 434.5 L847.8 433.8 L851.3 431.9 L855.3 431.1 L857.5 428.6 L860.4 427.1 L861.9 424.1 L864.4 421.9 L867.3 420.6 L870.4 419.9 L872.9 418.0 L875.1 415.8 L876.2 412.6 L878.6 410.1 L879.4 406.9 L879.7 403.6 L881.0 401.4 L882.7 399.5 L884.9 398.2 L887.4 397.5 L888.4 394.6 L888.5 391.4 L888.6 388.4 L888.9 385.3 L890.4 382.2 L892.4 379.4 L893.7 376.2 L895.0 373.1 L897.1 374.5 L899.6 375.4 L902.2 375.9 L904.2 377.6 L906.3 377.4 L907.8 375.9 L909.8 375.2 L911.8 376.1 L911.0 371.4 L909.4 367.0 L908.9 362.2 L907.2 357.8 L908.3 354.0 L910.8 350.9 L913.9 348.6 L916.4 345.6 L919.1 343.6 L922.0 342.0 L923.9 339.2 L925.6 336.4 L927.7 336.7 L929.1 338.3 L931.1 337.4 L933.2 337.9 L932.4 335.3 L932.6 332.5 L932.8 329.8 L931.7 327.2 L928.5 325.1 L925.9 322.3 L923.7 319.2 L921.0 316.5 L920.7 312.7 L919.1 309.1 L917.6 305.6 L914.9 302.8 L914.0 299.0 L913.6 295.1 L912.5 291.3 L911.8 287.5 L910.0 284.8 L908.1 282.1 L905.6 279.8 L902.6 278.3 L901.8 276.6 L902.1 274.8 L901.1 273.2 L899.6 272.2 L889.2 273.3 L879.0 275.3 L868.6 276.2Z M760.6 409.7 L763.0 409.4 L765.2 408.4 L767.6 407.8 L769.7 406.7 L773.5 408.6 L777.2 410.5 L781.2 411.7 L785.0 413.4 L786.7 414.7 L787.7 416.6 L789.3 417.9 L791.1 418.9 L794.0 421.0 L796.8 423.2 L800.0 424.8 L803.3 425.9 L805.3 426.0 L807.2 426.4 L809.1 426.4 L811.0 425.9 L812.4 427.8 L813.4 429.8 L815.1 431.5 L817.1 432.6 L815.5 434.7 L814.3 437.1 L812.2 438.8 L810.1 440.3 L806.8 440.3 L803.6 440.3 L800.4 440.1 L797.2 440.3 L798.3 443.0 L798.7 446.0 L800.2 448.5 L801.8 451.0 L799.8 451.1 L797.9 451.8 L796.1 452.7 L794.2 453.1 L792.4 450.6 L790.1 448.4 L787.7 446.5 L785.0 444.9 L783.4 442.9 L781.3 441.5 L780.0 439.5 L778.9 437.2 L775.9 438.0 L772.8 438.0 L769.7 438.1 L766.7 438.8 L763.6 436.0 L760.2 433.8 L757.3 431.0 L754.4 428.1 L753.2 426.7 L752.7 425.0 L751.5 423.6 L750.8 421.9 L754.0 421.4 L757.2 420.6 L760.4 419.5 L763.6 418.9 L762.8 416.5 L761.2 414.6 L760.9 412.2Z" fill="none" stroke="#0a14b4" stroke-width="2.5" stroke-linejoin="round" opacity="0.45"/>
<g clip-path="url(#cpb)"><rect x="680" y="195" width="170" height="170" fill="url(#gw1)"/><rect x="765" y="245" width="190" height="190" fill="url(#gw2)"/><rect x="700" y="170" width="180" height="170" fill="url(#gl1)"/><rect x="780" y="210" width="190" height="190" fill="url(#gl2)"/></g>
<path d="M683.5 365.8 L688.2 365.0 L694.5 370.5 L701.6 373.7 L702.4 376.8 L697.7 378.4 L692.2 376.0 L685.1 370.5Z M707.3 361.2 L711.5 361.0 L711.9 365.5 L708.0 365.8Z M703.2 340.6 L708.7 345.3 L711.9 348.5 L709.5 349.3 L705.6 346.1 L702.4 343.0Z M792.5 301.0 L799.0 302.5 L800.0 306.0 L794.0 305.5Z" fill="#9cbcb4"/>
<path d="M781.1 169.3 C787.8 177.0 795.9 194.3 800.2 215.6 C802.6 228.5 804.8 240.6 810.0 256.3 L757.6 256.3 C763.1 241.5 765.6 228.5 767.8 215.6 C771.9 195.2 776.7 178.1 781.1 169.3Z" fill="url(#pk1)"/>
<path d="M885.4 186.9 L892.2 190.6 C894.1 206.3 895.6 234.1 898.9 263.7 C900.4 278.5 903.9 290.6 910.4 302.6 L842.8 302.6 C851.1 293.3 855.7 285.9 858.5 274.8 C864.1 252.6 875.2 215.6 885.4 186.9Z" fill="url(#pk2)"/>
<circle cx="885" cy="409" r="0.8" fill="#223"/>
</g>
<g stroke="#3c3c3c" stroke-width="2.0" stroke-linejoin="round" stroke-linecap="round">
<g clip-path="url(#egclip)">
<path d="M85.0 768.8 C91.9 768.8 95.3 777.6 102.2 777.6 C110.9 777.6 115.3 752.5 124.0 752.5 C130.3 752.5 133.5 762.0 139.8 762.0 C147.9 762.0 151.9 737.5 160.0 737.5 C165.8 737.5 168.7 747.2 174.5 747.2 C181.9 747.2 185.6 724.0 193.0 724.0 C199.2 724.0 202.2 732.8 208.4 732.8 C216.2 732.8 220.2 708.5 228.0 708.5 C234.3 708.5 237.5 723.2 243.8 723.2 C251.9 723.2 255.9 706.0 264.0 706.0 C271.2 706.0 274.8 720.2 282.0 720.2 C291.2 720.2 295.8 702.5 305.0 702.5 C312.8 702.5 316.7 717.5 324.5 717.5 C331.7 717.5 335.3 700.5 342.5 700.5 C354.5 700.5 360.5 722.0 372.5 722.0 C380.5 722.0 384.5 707.5 392.5 707.5 C402.7 707.5 407.8 734.1 418.0 734.1 C424.8 734.1 428.2 718.8 435.0 718.8 C445.8 718.8 451.2 743.9 462.0 743.9 C469.2 743.9 472.8 729.0 480.0 729.0 C490.1 729.0 495.1 755.5 505.2 755.5 C511.9 755.5 515.3 744.0 522.0 744.0 C531.1 744.0 535.7 769.5 544.8 769.5 C550.9 769.5 553.9 759.0 560.0 759.0 C569.6 759.0 574.4 785.0 584.0 785.0 C590.4 785.0 593.6 775.0 600.0 775.0 L600.0 1075.0 L85.0 1068.8Z" fill="#e4e4e4" stroke="none"/>
<path d="M85.0 768.8 C91.9 768.8 95.3 777.6 102.2 777.6 C110.9 777.6 115.3 752.5 124.0 752.5 C130.3 752.5 133.5 762.0 139.8 762.0 C147.9 762.0 151.9 737.5 160.0 737.5 C165.8 737.5 168.7 747.2 174.5 747.2 C181.9 747.2 185.6 724.0 193.0 724.0 C199.2 724.0 202.2 732.8 208.4 732.8 C216.2 732.8 220.2 708.5 228.0 708.5 C234.3 708.5 237.5 723.2 243.8 723.2 C251.9 723.2 255.9 706.0 264.0 706.0 C271.2 706.0 274.8 720.2 282.0 720.2 C291.2 720.2 295.8 702.5 305.0 702.5 C312.8 702.5 316.7 717.5 324.5 717.5 C331.7 717.5 335.3 700.5 342.5 700.5 C354.5 700.5 360.5 722.0 372.5 722.0 C380.5 722.0 384.5 707.5 392.5 707.5 C402.7 707.5 407.8 734.1 418.0 734.1 C424.8 734.1 428.2 718.8 435.0 718.8 C445.8 718.8 451.2 743.9 462.0 743.9 C469.2 743.9 472.8 729.0 480.0 729.0 C490.1 729.0 495.1 755.5 505.2 755.5 C511.9 755.5 515.3 744.0 522.0 744.0 C531.1 744.0 535.7 769.5 544.8 769.5 C550.9 769.5 553.9 759.0 560.0 759.0 C569.6 759.0 574.4 785.0 584.0 785.0 C590.4 785.0 593.6 775.0 600.0 775.0 " fill="none"/>
<path d="M68.6 802.6 C76.6 802.6 80.6 779.6 88.6 779.6 C95.5 779.6 98.9 788.5 105.8 788.5 C114.5 788.5 118.9 763.4 127.6 763.4 C133.9 763.4 137.1 772.9 143.4 772.9 C151.5 772.9 155.5 748.4 163.6 748.4 C169.4 748.4 172.3 758.1 178.1 758.1 C185.5 758.1 189.2 734.9 196.6 734.9 C202.8 734.9 205.8 743.6 212.0 743.6 C219.8 743.6 223.8 719.4 231.6 719.4 C237.9 719.4 241.1 734.1 247.4 734.1 C255.5 734.1 259.5 716.9 267.6 716.9 C274.8 716.9 278.4 731.1 285.6 731.1 C294.8 731.1 299.4 713.4 308.6 713.4 C316.4 713.4 320.3 728.4 328.1 728.4 C335.3 728.4 338.9 711.4 346.1 711.4 C358.1 711.4 364.1 732.9 376.1 732.9 C384.1 732.9 388.1 718.4 396.1 718.4 C406.3 718.4 411.4 745.0 421.6 745.0 C428.4 745.0 431.8 729.6 438.6 729.6 C449.4 729.6 454.8 754.8 465.6 754.8 C472.8 754.8 476.4 739.9 483.6 739.9 C493.7 739.9 498.7 766.4 508.8 766.4 C515.5 766.4 518.9 754.9 525.6 754.9 C534.7 754.9 539.3 780.4 548.4 780.4 C554.5 780.4 557.5 769.9 563.6 769.9 C573.2 769.9 578.0 795.9 587.6 795.9 C594.0 795.9 597.2 785.9 603.6 785.9 L603.6 1085.9 L68.6 1102.7Z" fill="#e4e4e4" stroke="none"/>
<path d="M68.6 802.6 C76.6 802.6 80.6 779.6 88.6 779.6 C95.5 779.6 98.9 788.5 105.8 788.5 C114.5 788.5 118.9 763.4 127.6 763.4 C133.9 763.4 137.1 772.9 143.4 772.9 C151.5 772.9 155.5 748.4 163.6 748.4 C169.4 748.4 172.3 758.1 178.1 758.1 C185.5 758.1 189.2 734.9 196.6 734.9 C202.8 734.9 205.8 743.6 212.0 743.6 C219.8 743.6 223.8 719.4 231.6 719.4 C237.9 719.4 241.1 734.1 247.4 734.1 C255.5 734.1 259.5 716.9 267.6 716.9 C274.8 716.9 278.4 731.1 285.6 731.1 C294.8 731.1 299.4 713.4 308.6 713.4 C316.4 713.4 320.3 728.4 328.1 728.4 C335.3 728.4 338.9 711.4 346.1 711.4 C358.1 711.4 364.1 732.9 376.1 732.9 C384.1 732.9 388.1 718.4 396.1 718.4 C406.3 718.4 411.4 745.0 421.6 745.0 C428.4 745.0 431.8 729.6 438.6 729.6 C449.4 729.6 454.8 754.8 465.6 754.8 C472.8 754.8 476.4 739.9 483.6 739.9 C493.7 739.9 498.7 766.4 508.8 766.4 C515.5 766.4 518.9 754.9 525.6 754.9 C534.7 754.9 539.3 780.4 548.4 780.4 C554.5 780.4 557.5 769.9 563.6 769.9 C573.2 769.9 578.0 795.9 587.6 795.9 C594.0 795.9 597.2 785.9 603.6 785.9 " fill="none"/>
<path d="M72.2 813.5 C80.2 813.5 84.2 790.5 92.2 790.5 C99.1 790.5 102.5 799.4 109.4 799.4 C118.1 799.4 122.5 774.3 131.2 774.3 C137.5 774.3 140.7 783.8 147.0 783.8 C155.1 783.8 159.1 759.3 167.2 759.3 C173.0 759.3 175.9 769.0 181.7 769.0 C189.1 769.0 192.8 745.8 200.2 745.8 C206.4 745.8 209.4 754.5 215.6 754.5 C223.4 754.5 227.4 730.3 235.2 730.3 C241.5 730.3 244.7 745.0 251.0 745.0 C259.1 745.0 263.1 727.8 271.2 727.8 C278.4 727.8 282.0 742.0 289.2 742.0 C298.4 742.0 303.0 724.3 312.2 724.3 C320.0 724.3 323.9 739.3 331.7 739.3 C338.9 739.3 342.5 722.3 349.7 722.3 C361.7 722.3 367.7 743.8 379.7 743.8 C387.7 743.8 391.7 729.3 399.7 729.3 C409.9 729.3 415.0 755.9 425.2 755.9 C432.0 755.9 435.4 740.5 442.2 740.5 C453.0 740.5 458.4 765.7 469.2 765.7 C476.4 765.7 480.0 750.8 487.2 750.8 C497.3 750.8 502.3 777.3 512.4 777.3 C519.1 777.3 522.5 765.8 529.2 765.8 C538.3 765.8 542.9 791.3 552.0 791.3 C558.1 791.3 561.1 780.8 567.2 780.8 C576.8 780.8 581.6 806.8 591.2 806.8 C597.6 806.8 600.8 796.8 607.2 796.8 L607.2 1096.8 L72.2 1113.5Z" fill="#e4e4e4" stroke="none"/>
<path d="M72.2 813.5 C80.2 813.5 84.2 790.5 92.2 790.5 C99.1 790.5 102.5 799.4 109.4 799.4 C118.1 799.4 122.5 774.3 131.2 774.3 C137.5 774.3 140.7 783.8 147.0 783.8 C155.1 783.8 159.1 759.3 167.2 759.3 C173.0 759.3 175.9 769.0 181.7 769.0 C189.1 769.0 192.8 745.8 200.2 745.8 C206.4 745.8 209.4 754.5 215.6 754.5 C223.4 754.5 227.4 730.3 235.2 730.3 C241.5 730.3 244.7 745.0 251.0 745.0 C259.1 745.0 263.1 727.8 271.2 727.8 C278.4 727.8 282.0 742.0 289.2 742.0 C298.4 742.0 303.0 724.3 312.2 724.3 C320.0 724.3 323.9 739.3 331.7 739.3 C338.9 739.3 342.5 722.3 349.7 722.3 C361.7 722.3 367.7 743.8 379.7 743.8 C387.7 743.8 391.7 729.3 399.7 729.3 C409.9 729.3 415.0 755.9 425.2 755.9 C432.0 755.9 435.4 740.5 442.2 740.5 C453.0 740.5 458.4 765.7 469.2 765.7 C476.4 765.7 480.0 750.8 487.2 750.8 C497.3 750.8 502.3 777.3 512.4 777.3 C519.1 777.3 522.5 765.8 529.2 765.8 C538.3 765.8 542.9 791.3 552.0 791.3 C558.1 791.3 561.1 780.8 567.2 780.8 C576.8 780.8 581.6 806.8 591.2 806.8 C597.6 806.8 600.8 796.8 607.2 796.8 " fill="none"/>
<path d="M75.8 824.5 C83.8 824.5 87.8 801.5 95.8 801.5 C102.7 801.5 106.1 810.3 113.0 810.3 C121.7 810.3 126.1 785.2 134.8 785.2 C141.1 785.2 144.3 794.7 150.6 794.7 C158.7 794.7 162.7 770.2 170.8 770.2 C176.6 770.2 179.5 780.0 185.3 780.0 C192.7 780.0 196.4 756.7 203.8 756.7 C210.0 756.7 213.0 765.5 219.2 765.5 C227.0 765.5 231.0 741.2 238.8 741.2 C245.1 741.2 248.3 756.0 254.6 756.0 C262.7 756.0 266.7 738.7 274.8 738.7 C282.0 738.7 285.6 753.0 292.8 753.0 C302.0 753.0 306.6 735.2 315.8 735.2 C323.6 735.2 327.5 750.2 335.3 750.2 C342.5 750.2 346.1 733.2 353.3 733.2 C365.3 733.2 371.3 754.7 383.3 754.7 C391.3 754.7 395.3 740.2 403.3 740.2 C413.5 740.2 418.6 766.8 428.8 766.8 C435.6 766.8 439.0 751.5 445.8 751.5 C456.6 751.5 462.0 776.6 472.8 776.6 C480.0 776.6 483.6 761.7 490.8 761.7 C500.9 761.7 505.9 788.2 516.0 788.2 C522.7 788.2 526.1 776.7 532.8 776.7 C541.9 776.7 546.5 802.2 555.6 802.2 C561.7 802.2 564.7 791.7 570.8 791.7 C580.4 791.7 585.2 817.7 594.8 817.7 C601.2 817.7 604.4 807.7 610.8 807.7 L610.8 1107.7 L75.8 1124.5Z" fill="#e4e4e4" stroke="none"/>
<path d="M75.8 824.5 C83.8 824.5 87.8 801.5 95.8 801.5 C102.7 801.5 106.1 810.3 113.0 810.3 C121.7 810.3 126.1 785.2 134.8 785.2 C141.1 785.2 144.3 794.7 150.6 794.7 C158.7 794.7 162.7 770.2 170.8 770.2 C176.6 770.2 179.5 780.0 185.3 780.0 C192.7 780.0 196.4 756.7 203.8 756.7 C210.0 756.7 213.0 765.5 219.2 765.5 C227.0 765.5 231.0 741.2 238.8 741.2 C245.1 741.2 248.3 756.0 254.6 756.0 C262.7 756.0 266.7 738.7 274.8 738.7 C282.0 738.7 285.6 753.0 292.8 753.0 C302.0 753.0 306.6 735.2 315.8 735.2 C323.6 735.2 327.5 750.2 335.3 750.2 C342.5 750.2 346.1 733.2 353.3 733.2 C365.3 733.2 371.3 754.7 383.3 754.7 C391.3 754.7 395.3 740.2 403.3 740.2 C413.5 740.2 418.6 766.8 428.8 766.8 C435.6 766.8 439.0 751.5 445.8 751.5 C456.6 751.5 462.0 776.6 472.8 776.6 C480.0 776.6 483.6 761.7 490.8 761.7 C500.9 761.7 505.9 788.2 516.0 788.2 C522.7 788.2 526.1 776.7 532.8 776.7 C541.9 776.7 546.5 802.2 555.6 802.2 C561.7 802.2 564.7 791.7 570.8 791.7 C580.4 791.7 585.2 817.7 594.8 817.7 C601.2 817.7 604.4 807.7 610.8 807.7 " fill="none"/>
<path d="M79.4 835.4 C87.4 835.4 91.4 812.4 99.4 812.4 C106.3 812.4 109.7 821.2 116.6 821.2 C125.3 821.2 129.7 796.1 138.4 796.1 C144.7 796.1 147.9 805.6 154.2 805.6 C162.3 805.6 166.3 781.1 174.4 781.1 C180.2 781.1 183.1 790.9 188.9 790.9 C196.3 790.9 200.0 767.6 207.4 767.6 C213.6 767.6 216.6 776.4 222.8 776.4 C230.6 776.4 234.6 752.1 242.4 752.1 C248.7 752.1 251.9 766.9 258.2 766.9 C266.3 766.9 270.3 749.6 278.4 749.6 C285.6 749.6 289.2 763.9 296.4 763.9 C305.6 763.9 310.2 746.1 319.4 746.1 C327.2 746.1 331.1 761.1 338.9 761.1 C346.1 761.1 349.7 744.1 356.9 744.1 C368.9 744.1 374.9 765.6 386.9 765.6 C394.9 765.6 398.9 751.1 406.9 751.1 C417.1 751.1 422.2 777.7 432.4 777.7 C439.2 777.7 442.6 762.4 449.4 762.4 C460.2 762.4 465.6 787.5 476.4 787.5 C483.6 787.5 487.2 772.6 494.4 772.6 C504.5 772.6 509.5 799.1 519.6 799.1 C526.3 799.1 529.7 787.6 536.4 787.6 C545.5 787.6 550.1 813.1 559.2 813.1 C565.3 813.1 568.3 802.6 574.4 802.6 C584.0 802.6 588.8 828.6 598.4 828.6 C604.8 828.6 608.0 818.6 614.4 818.6 L614.4 1118.6 L79.4 1135.3Z" fill="#e4e4e4" stroke="none"/>
<path d="M79.4 835.4 C87.4 835.4 91.4 812.4 99.4 812.4 C106.3 812.4 109.7 821.2 116.6 821.2 C125.3 821.2 129.7 796.1 138.4 796.1 C144.7 796.1 147.9 805.6 154.2 805.6 C162.3 805.6 166.3 781.1 174.4 781.1 C180.2 781.1 183.1 790.9 188.9 790.9 C196.3 790.9 200.0 767.6 207.4 767.6 C213.6 767.6 216.6 776.4 222.8 776.4 C230.6 776.4 234.6 752.1 242.4 752.1 C248.7 752.1 251.9 766.9 258.2 766.9 C266.3 766.9 270.3 749.6 278.4 749.6 C285.6 749.6 289.2 763.9 296.4 763.9 C305.6 763.9 310.2 746.1 319.4 746.1 C327.2 746.1 331.1 761.1 338.9 761.1 C346.1 761.1 349.7 744.1 356.9 744.1 C368.9 744.1 374.9 765.6 386.9 765.6 C394.9 765.6 398.9 751.1 406.9 751.1 C417.1 751.1 422.2 777.7 432.4 777.7 C439.2 777.7 442.6 762.4 449.4 762.4 C460.2 762.4 465.6 787.5 476.4 787.5 C483.6 787.5 487.2 772.6 494.4 772.6 C504.5 772.6 509.5 799.1 519.6 799.1 C526.3 799.1 529.7 787.6 536.4 787.6 C545.5 787.6 550.1 813.1 559.2 813.1 C565.3 813.1 568.3 802.6 574.4 802.6 C584.0 802.6 588.8 828.6 598.4 828.6 C604.8 828.6 608.0 818.6 614.4 818.6 " fill="none"/>
<path d="M83.0 846.2 C91.0 846.2 95.0 823.2 103.0 823.2 C109.9 823.2 113.3 832.1 120.2 832.1 C128.9 832.1 133.3 807.0 142.0 807.0 C148.3 807.0 151.5 816.5 157.8 816.5 C165.9 816.5 169.9 792.0 178.0 792.0 C183.8 792.0 186.7 801.8 192.5 801.8 C199.9 801.8 203.6 778.5 211.0 778.5 C217.2 778.5 220.2 787.2 226.4 787.2 C234.2 787.2 238.2 763.0 246.0 763.0 C252.3 763.0 255.5 777.8 261.8 777.8 C269.9 777.8 273.9 760.5 282.0 760.5 C289.2 760.5 292.8 774.8 300.0 774.8 C309.2 774.8 313.8 757.0 323.0 757.0 C330.8 757.0 334.7 772.0 342.5 772.0 C349.7 772.0 353.3 755.0 360.5 755.0 C372.5 755.0 378.5 776.5 390.5 776.5 C398.5 776.5 402.5 762.0 410.5 762.0 C420.7 762.0 425.8 788.6 436.0 788.6 C442.8 788.6 446.2 773.2 453.0 773.2 C463.8 773.2 469.2 798.4 480.0 798.4 C487.2 798.4 490.8 783.5 498.0 783.5 C508.1 783.5 513.1 810.0 523.2 810.0 C529.9 810.0 533.3 798.5 540.0 798.5 C549.1 798.5 553.7 824.0 562.8 824.0 C568.9 824.0 571.9 813.5 578.0 813.5 C587.6 813.5 592.4 839.5 602.0 839.5 C608.4 839.5 611.6 829.5 618.0 829.5 L618.0 1129.5 L83.0 1146.2Z" fill="#e4e4e4" stroke="none"/>
<path d="M83.0 846.2 C91.0 846.2 95.0 823.2 103.0 823.2 C109.9 823.2 113.3 832.1 120.2 832.1 C128.9 832.1 133.3 807.0 142.0 807.0 C148.3 807.0 151.5 816.5 157.8 816.5 C165.9 816.5 169.9 792.0 178.0 792.0 C183.8 792.0 186.7 801.8 192.5 801.8 C199.9 801.8 203.6 778.5 211.0 778.5 C217.2 778.5 220.2 787.2 226.4 787.2 C234.2 787.2 238.2 763.0 246.0 763.0 C252.3 763.0 255.5 777.8 261.8 777.8 C269.9 777.8 273.9 760.5 282.0 760.5 C289.2 760.5 292.8 774.8 300.0 774.8 C309.2 774.8 313.8 757.0 323.0 757.0 C330.8 757.0 334.7 772.0 342.5 772.0 C349.7 772.0 353.3 755.0 360.5 755.0 C372.5 755.0 378.5 776.5 390.5 776.5 C398.5 776.5 402.5 762.0 410.5 762.0 C420.7 762.0 425.8 788.6 436.0 788.6 C442.8 788.6 446.2 773.2 453.0 773.2 C463.8 773.2 469.2 798.4 480.0 798.4 C487.2 798.4 490.8 783.5 498.0 783.5 C508.1 783.5 513.1 810.0 523.2 810.0 C529.9 810.0 533.3 798.5 540.0 798.5 C549.1 798.5 553.7 824.0 562.8 824.0 C568.9 824.0 571.9 813.5 578.0 813.5 C587.6 813.5 592.4 839.5 602.0 839.5 C608.4 839.5 611.6 829.5 618.0 829.5 " fill="none"/>
<path d="M86.6 857.1 C94.6 857.1 98.6 834.1 106.6 834.1 C113.5 834.1 116.9 843.0 123.8 843.0 C132.5 843.0 136.9 817.9 145.6 817.9 C151.9 817.9 155.1 827.4 161.4 827.4 C169.5 827.4 173.5 802.9 181.6 802.9 C187.4 802.9 190.3 812.6 196.1 812.6 C203.5 812.6 207.2 789.4 214.6 789.4 C220.8 789.4 223.8 798.1 230.0 798.1 C237.8 798.1 241.8 773.9 249.6 773.9 C255.9 773.9 259.1 788.6 265.4 788.6 C273.5 788.6 277.5 771.4 285.6 771.4 C292.8 771.4 296.4 785.6 303.6 785.6 C312.8 785.6 317.4 767.9 326.6 767.9 C334.4 767.9 338.3 782.9 346.1 782.9 C353.3 782.9 356.9 765.9 364.1 765.9 C376.1 765.9 382.1 787.4 394.1 787.4 C402.1 787.4 406.1 772.9 414.1 772.9 C424.3 772.9 429.4 799.5 439.6 799.5 C446.4 799.5 449.8 784.1 456.6 784.1 C467.4 784.1 472.8 809.3 483.6 809.3 C490.8 809.3 494.4 794.4 501.6 794.4 C511.7 794.4 516.7 820.9 526.8 820.9 C533.5 820.9 536.9 809.4 543.6 809.4 C552.7 809.4 557.3 834.9 566.4 834.9 C572.5 834.9 575.5 824.4 581.6 824.4 C591.2 824.4 596.0 850.4 605.6 850.4 C612.0 850.4 615.2 840.4 621.6 840.4 L621.6 1140.4 L86.6 1157.2Z" fill="#e4e4e4" stroke="none"/>
<path d="M86.6 857.1 C94.6 857.1 98.6 834.1 106.6 834.1 C113.5 834.1 116.9 843.0 123.8 843.0 C132.5 843.0 136.9 817.9 145.6 817.9 C151.9 817.9 155.1 827.4 161.4 827.4 C169.5 827.4 173.5 802.9 181.6 802.9 C187.4 802.9 190.3 812.6 196.1 812.6 C203.5 812.6 207.2 789.4 214.6 789.4 C220.8 789.4 223.8 798.1 230.0 798.1 C237.8 798.1 241.8 773.9 249.6 773.9 C255.9 773.9 259.1 788.6 265.4 788.6 C273.5 788.6 277.5 771.4 285.6 771.4 C292.8 771.4 296.4 785.6 303.6 785.6 C312.8 785.6 317.4 767.9 326.6 767.9 C334.4 767.9 338.3 782.9 346.1 782.9 C353.3 782.9 356.9 765.9 364.1 765.9 C376.1 765.9 382.1 787.4 394.1 787.4 C402.1 787.4 406.1 772.9 414.1 772.9 C424.3 772.9 429.4 799.5 439.6 799.5 C446.4 799.5 449.8 784.1 456.6 784.1 C467.4 784.1 472.8 809.3 483.6 809.3 C490.8 809.3 494.4 794.4 501.6 794.4 C511.7 794.4 516.7 820.9 526.8 820.9 C533.5 820.9 536.9 809.4 543.6 809.4 C552.7 809.4 557.3 834.9 566.4 834.9 C572.5 834.9 575.5 824.4 581.6 824.4 C591.2 824.4 596.0 850.4 605.6 850.4 C612.0 850.4 615.2 840.4 621.6 840.4 " fill="none"/>
<path d="M90.2 868.0 C98.2 868.0 102.2 845.0 110.2 845.0 C117.1 845.0 120.5 853.9 127.4 853.9 C136.1 853.9 140.5 828.8 149.2 828.8 C155.5 828.8 158.7 838.3 165.0 838.3 C173.1 838.3 177.1 813.8 185.2 813.8 C191.0 813.8 193.9 823.5 199.7 823.5 C207.1 823.5 210.8 800.3 218.2 800.3 C224.4 800.3 227.4 809.0 233.6 809.0 C241.4 809.0 245.4 784.8 253.2 784.8 C259.5 784.8 262.7 799.5 269.0 799.5 C277.1 799.5 281.1 782.3 289.2 782.3 C296.4 782.3 300.0 796.5 307.2 796.5 C316.4 796.5 321.0 778.8 330.2 778.8 C338.0 778.8 341.9 793.8 349.7 793.8 C356.9 793.8 360.5 776.8 367.7 776.8 C379.7 776.8 385.7 798.3 397.7 798.3 C405.7 798.3 409.7 783.8 417.7 783.8 C427.9 783.8 433.0 810.4 443.2 810.4 C450.0 810.4 453.4 795.0 460.2 795.0 C471.0 795.0 476.4 820.2 487.2 820.2 C494.4 820.2 498.0 805.3 505.2 805.3 C515.3 805.3 520.3 831.8 530.4 831.8 C537.1 831.8 540.5 820.3 547.2 820.3 C556.3 820.3 560.9 845.8 570.0 845.8 C576.1 845.8 579.1 835.3 585.2 835.3 C594.8 835.3 599.6 861.3 609.2 861.3 C615.6 861.3 618.8 851.3 625.2 851.3 L625.2 1151.3 L90.2 1168.0Z" fill="#e4e4e4" stroke="none"/>
<path d="M90.2 868.0 C98.2 868.0 102.2 845.0 110.2 845.0 C117.1 845.0 120.5 853.9 127.4 853.9 C136.1 853.9 140.5 828.8 149.2 828.8 C155.5 828.8 158.7 838.3 165.0 838.3 C173.1 838.3 177.1 813.8 185.2 813.8 C191.0 813.8 193.9 823.5 199.7 823.5 C207.1 823.5 210.8 800.3 218.2 800.3 C224.4 800.3 227.4 809.0 233.6 809.0 C241.4 809.0 245.4 784.8 253.2 784.8 C259.5 784.8 262.7 799.5 269.0 799.5 C277.1 799.5 281.1 782.3 289.2 782.3 C296.4 782.3 300.0 796.5 307.2 796.5 C316.4 796.5 321.0 778.8 330.2 778.8 C338.0 778.8 341.9 793.8 349.7 793.8 C356.9 793.8 360.5 776.8 367.7 776.8 C379.7 776.8 385.7 798.3 397.7 798.3 C405.7 798.3 409.7 783.8 417.7 783.8 C427.9 783.8 433.0 810.4 443.2 810.4 C450.0 810.4 453.4 795.0 460.2 795.0 C471.0 795.0 476.4 820.2 487.2 820.2 C494.4 820.2 498.0 805.3 505.2 805.3 C515.3 805.3 520.3 831.8 530.4 831.8 C537.1 831.8 540.5 820.3 547.2 820.3 C556.3 820.3 560.9 845.8 570.0 845.8 C576.1 845.8 579.1 835.3 585.2 835.3 C594.8 835.3 599.6 861.3 609.2 861.3 C615.6 861.3 618.8 851.3 625.2 851.3 " fill="none"/>
<path d="M93.8 879.0 C101.8 879.0 105.8 856.0 113.8 856.0 C120.7 856.0 124.1 864.8 131.0 864.8 C139.7 864.8 144.1 839.7 152.8 839.7 C159.1 839.7 162.3 849.2 168.6 849.2 C176.7 849.2 180.7 824.7 188.8 824.7 C194.6 824.7 197.5 834.5 203.3 834.5 C210.7 834.5 214.4 811.2 221.8 811.2 C228.0 811.2 231.0 820.0 237.2 820.0 C245.0 820.0 249.0 795.7 256.8 795.7 C263.1 795.7 266.3 810.5 272.6 810.5 C280.7 810.5 284.7 793.2 292.8 793.2 C300.0 793.2 303.6 807.5 310.8 807.5 C320.0 807.5 324.6 789.7 333.8 789.7 C341.6 789.7 345.5 804.7 353.3 804.7 C360.5 804.7 364.1 787.7 371.3 787.7 C383.3 787.7 389.3 809.2 401.3 809.2 C409.3 809.2 413.3 794.7 421.3 794.7 C431.5 794.7 436.6 821.3 446.8 821.3 C453.6 821.3 457.0 806.0 463.8 806.0 C474.6 806.0 480.0 831.1 490.8 831.1 C498.0 831.1 501.6 816.2 508.8 816.2 C518.9 816.2 523.9 842.7 534.0 842.7 C540.7 842.7 544.1 831.2 550.8 831.2 C559.9 831.2 564.5 856.7 573.6 856.7 C579.7 856.7 582.7 846.2 588.8 846.2 C598.4 846.2 603.2 872.2 612.8 872.2 C619.2 872.2 622.4 862.2 628.8 862.2 L628.8 1162.2 L93.8 1179.0Z" fill="#e4e4e4" stroke="none"/>
<path d="M93.8 879.0 C101.8 879.0 105.8 856.0 113.8 856.0 C120.7 856.0 124.1 864.8 131.0 864.8 C139.7 864.8 144.1 839.7 152.8 839.7 C159.1 839.7 162.3 849.2 168.6 849.2 C176.7 849.2 180.7 824.7 188.8 824.7 C194.6 824.7 197.5 834.5 203.3 834.5 C210.7 834.5 214.4 811.2 221.8 811.2 C228.0 811.2 231.0 820.0 237.2 820.0 C245.0 820.0 249.0 795.7 256.8 795.7 C263.1 795.7 266.3 810.5 272.6 810.5 C280.7 810.5 284.7 793.2 292.8 793.2 C300.0 793.2 303.6 807.5 310.8 807.5 C320.0 807.5 324.6 789.7 333.8 789.7 C341.6 789.7 345.5 804.7 353.3 804.7 C360.5 804.7 364.1 787.7 371.3 787.7 C383.3 787.7 389.3 809.2 401.3 809.2 C409.3 809.2 413.3 794.7 421.3 794.7 C431.5 794.7 436.6 821.3 446.8 821.3 C453.6 821.3 457.0 806.0 463.8 806.0 C474.6 806.0 480.0 831.1 490.8 831.1 C498.0 831.1 501.6 816.2 508.8 816.2 C518.9 816.2 523.9 842.7 534.0 842.7 C540.7 842.7 544.1 831.2 550.8 831.2 C559.9 831.2 564.5 856.7 573.6 856.7 C579.7 856.7 582.7 846.2 588.8 846.2 C598.4 846.2 603.2 872.2 612.8 872.2 C619.2 872.2 622.4 862.2 628.8 862.2 " fill="none"/>
<path d="M97.4 889.9 C105.4 889.9 109.4 866.9 117.4 866.9 C124.3 866.9 127.7 875.7 134.6 875.7 C143.3 875.7 147.7 850.6 156.4 850.6 C162.7 850.6 165.9 860.1 172.2 860.1 C180.3 860.1 184.3 835.6 192.4 835.6 C198.2 835.6 201.1 845.4 206.9 845.4 C214.3 845.4 218.0 822.1 225.4 822.1 C231.6 822.1 234.6 830.9 240.8 830.9 C248.6 830.9 252.6 806.6 260.4 806.6 C266.7 806.6 269.9 821.4 276.2 821.4 C284.3 821.4 288.3 804.1 296.4 804.1 C303.6 804.1 307.2 818.4 314.4 818.4 C323.6 818.4 328.2 800.6 337.4 800.6 C345.2 800.6 349.1 815.6 356.9 815.6 C364.1 815.6 367.7 798.6 374.9 798.6 C386.9 798.6 392.9 820.1 404.9 820.1 C412.9 820.1 416.9 805.6 424.9 805.6 C435.1 805.6 440.2 832.2 450.4 832.2 C457.2 832.2 460.6 816.9 467.4 816.9 C478.2 816.9 483.6 842.0 494.4 842.0 C501.6 842.0 505.2 827.1 512.4 827.1 C522.5 827.1 527.5 853.6 537.6 853.6 C544.3 853.6 547.7 842.1 554.4 842.1 C563.5 842.1 568.1 867.6 577.2 867.6 C583.3 867.6 586.3 857.1 592.4 857.1 C602.0 857.1 606.8 883.1 616.4 883.1 C622.8 883.1 626.0 873.1 632.4 873.1 L632.4 1173.1 L97.4 1189.8Z" fill="#e4e4e4" stroke="none"/>
<path d="M97.4 889.9 C105.4 889.9 109.4 866.9 117.4 866.9 C124.3 866.9 127.7 875.7 134.6 875.7 C143.3 875.7 147.7 850.6 156.4 850.6 C162.7 850.6 165.9 860.1 172.2 860.1 C180.3 860.1 184.3 835.6 192.4 835.6 C198.2 835.6 201.1 845.4 206.9 845.4 C214.3 845.4 218.0 822.1 225.4 822.1 C231.6 822.1 234.6 830.9 240.8 830.9 C248.6 830.9 252.6 806.6 260.4 806.6 C266.7 806.6 269.9 821.4 276.2 821.4 C284.3 821.4 288.3 804.1 296.4 804.1 C303.6 804.1 307.2 818.4 314.4 818.4 C323.6 818.4 328.2 800.6 337.4 800.6 C345.2 800.6 349.1 815.6 356.9 815.6 C364.1 815.6 367.7 798.6 374.9 798.6 C386.9 798.6 392.9 820.1 404.9 820.1 C412.9 820.1 416.9 805.6 424.9 805.6 C435.1 805.6 440.2 832.2 450.4 832.2 C457.2 832.2 460.6 816.9 467.4 816.9 C478.2 816.9 483.6 842.0 494.4 842.0 C501.6 842.0 505.2 827.1 512.4 827.1 C522.5 827.1 527.5 853.6 537.6 853.6 C544.3 853.6 547.7 842.1 554.4 842.1 C563.5 842.1 568.1 867.6 577.2 867.6 C583.3 867.6 586.3 857.1 592.4 857.1 C602.0 857.1 606.8 883.1 616.4 883.1 C622.8 883.1 626.0 873.1 632.4 873.1 " fill="none"/>
<path d="M101.0 900.8 C109.0 900.8 113.0 877.8 121.0 877.8 C127.9 877.8 131.3 886.6 138.2 886.6 C146.9 886.6 151.3 861.5 160.0 861.5 C166.3 861.5 169.5 871.0 175.8 871.0 C183.9 871.0 187.9 846.5 196.0 846.5 C201.8 846.5 204.7 856.2 210.5 856.2 C217.9 856.2 221.6 833.0 229.0 833.0 C235.2 833.0 238.2 841.8 244.4 841.8 C252.2 841.8 256.2 817.5 264.0 817.5 C270.3 817.5 273.5 832.2 279.8 832.2 C287.9 832.2 291.9 815.0 300.0 815.0 C307.2 815.0 310.8 829.2 318.0 829.2 C327.2 829.2 331.8 811.5 341.0 811.5 C348.8 811.5 352.7 826.5 360.5 826.5 C367.7 826.5 371.3 809.5 378.5 809.5 C390.5 809.5 396.5 831.0 408.5 831.0 C416.5 831.0 420.5 816.5 428.5 816.5 C438.7 816.5 443.8 843.1 454.0 843.1 C460.8 843.1 464.2 827.8 471.0 827.8 C481.8 827.8 487.2 852.9 498.0 852.9 C505.2 852.9 508.8 838.0 516.0 838.0 C526.1 838.0 531.1 864.5 541.2 864.5 C547.9 864.5 551.3 853.0 558.0 853.0 C567.1 853.0 571.7 878.5 580.8 878.5 C586.9 878.5 589.9 868.0 596.0 868.0 C605.6 868.0 610.4 894.0 620.0 894.0 C626.4 894.0 629.6 884.0 636.0 884.0 L636.0 1184.0 L101.0 1200.8Z" fill="#e4e4e4" stroke="none"/>
<path d="M101.0 900.8 C109.0 900.8 113.0 877.8 121.0 877.8 C127.9 877.8 131.3 886.6 138.2 886.6 C146.9 886.6 151.3 861.5 160.0 861.5 C166.3 861.5 169.5 871.0 175.8 871.0 C183.9 871.0 187.9 846.5 196.0 846.5 C201.8 846.5 204.7 856.2 210.5 856.2 C217.9 856.2 221.6 833.0 229.0 833.0 C235.2 833.0 238.2 841.8 244.4 841.8 C252.2 841.8 256.2 817.5 264.0 817.5 C270.3 817.5 273.5 832.2 279.8 832.2 C287.9 832.2 291.9 815.0 300.0 815.0 C307.2 815.0 310.8 829.2 318.0 829.2 C327.2 829.2 331.8 811.5 341.0 811.5 C348.8 811.5 352.7 826.5 360.5 826.5 C367.7 826.5 371.3 809.5 378.5 809.5 C390.5 809.5 396.5 831.0 408.5 831.0 C416.5 831.0 420.5 816.5 428.5 816.5 C438.7 816.5 443.8 843.1 454.0 843.1 C460.8 843.1 464.2 827.8 471.0 827.8 C481.8 827.8 487.2 852.9 498.0 852.9 C505.2 852.9 508.8 838.0 516.0 838.0 C526.1 838.0 531.1 864.5 541.2 864.5 C547.9 864.5 551.3 853.0 558.0 853.0 C567.1 853.0 571.7 878.5 580.8 878.5 C586.9 878.5 589.9 868.0 596.0 868.0 C605.6 868.0 610.4 894.0 620.0 894.0 C626.4 894.0 629.6 884.0 636.0 884.0 " fill="none"/>
<path d="M104.6 911.6 C112.6 911.6 116.6 888.6 124.6 888.6 C131.5 888.6 134.9 897.5 141.8 897.5 C150.5 897.5 154.9 872.4 163.6 872.4 C169.9 872.4 173.1 881.9 179.4 881.9 C187.5 881.9 191.5 857.4 199.6 857.4 C205.4 857.4 208.3 867.1 214.1 867.1 C221.5 867.1 225.2 843.9 232.6 843.9 C238.8 843.9 241.8 852.6 248.0 852.6 C255.8 852.6 259.8 828.4 267.6 828.4 C273.9 828.4 277.1 843.1 283.4 843.1 C291.5 843.1 295.5 825.9 303.6 825.9 C310.8 825.9 314.4 840.1 321.6 840.1 C330.8 840.1 335.4 822.4 344.6 822.4 C352.4 822.4 356.3 837.4 364.1 837.4 C371.3 837.4 374.9 820.4 382.1 820.4 C394.1 820.4 400.1 841.9 412.1 841.9 C420.1 841.9 424.1 827.4 432.1 827.4 C442.3 827.4 447.4 854.0 457.6 854.0 C464.4 854.0 467.8 838.6 474.6 838.6 C485.4 838.6 490.8 863.8 501.6 863.8 C508.8 863.8 512.4 848.9 519.6 848.9 C529.7 848.9 534.7 875.4 544.8 875.4 C551.5 875.4 554.9 863.9 561.6 863.9 C570.7 863.9 575.3 889.4 584.4 889.4 C590.5 889.4 593.5 878.9 599.6 878.9 C609.2 878.9 614.0 904.9 623.6 904.9 C630.0 904.9 633.2 894.9 639.6 894.9 L639.6 1194.9 L104.6 1211.7Z" fill="#e4e4e4" stroke="none"/>
<path d="M104.6 911.6 C112.6 911.6 116.6 888.6 124.6 888.6 C131.5 888.6 134.9 897.5 141.8 897.5 C150.5 897.5 154.9 872.4 163.6 872.4 C169.9 872.4 173.1 881.9 179.4 881.9 C187.5 881.9 191.5 857.4 199.6 857.4 C205.4 857.4 208.3 867.1 214.1 867.1 C221.5 867.1 225.2 843.9 232.6 843.9 C238.8 843.9 241.8 852.6 248.0 852.6 C255.8 852.6 259.8 828.4 267.6 828.4 C273.9 828.4 277.1 843.1 283.4 843.1 C291.5 843.1 295.5 825.9 303.6 825.9 C310.8 825.9 314.4 840.1 321.6 840.1 C330.8 840.1 335.4 822.4 344.6 822.4 C352.4 822.4 356.3 837.4 364.1 837.4 C371.3 837.4 374.9 820.4 382.1 820.4 C394.1 820.4 400.1 841.9 412.1 841.9 C420.1 841.9 424.1 827.4 432.1 827.4 C442.3 827.4 447.4 854.0 457.6 854.0 C464.4 854.0 467.8 838.6 474.6 838.6 C485.4 838.6 490.8 863.8 501.6 863.8 C508.8 863.8 512.4 848.9 519.6 848.9 C529.7 848.9 534.7 875.4 544.8 875.4 C551.5 875.4 554.9 863.9 561.6 863.9 C570.7 863.9 575.3 889.4 584.4 889.4 C590.5 889.4 593.5 878.9 599.6 878.9 C609.2 878.9 614.0 904.9 623.6 904.9 C630.0 904.9 633.2 894.9 639.6 894.9 " fill="none"/>
<path d="M108.2 922.5 C116.2 922.5 120.2 899.5 128.2 899.5 C135.1 899.5 138.5 908.4 145.4 908.4 C154.1 908.4 158.5 883.3 167.2 883.3 C173.5 883.3 176.7 892.8 183.0 892.8 C191.1 892.8 195.1 868.3 203.2 868.3 C209.0 868.3 211.9 878.0 217.7 878.0 C225.1 878.0 228.8 854.8 236.2 854.8 C242.4 854.8 245.4 863.5 251.6 863.5 C259.4 863.5 263.4 839.3 271.2 839.3 C277.5 839.3 280.7 854.0 287.0 854.0 C295.1 854.0 299.1 836.8 307.2 836.8 C314.4 836.8 318.0 851.0 325.2 851.0 C334.4 851.0 339.0 833.3 348.2 833.3 C356.0 833.3 359.9 848.3 367.7 848.3 C374.9 848.3 378.5 831.3 385.7 831.3 C397.7 831.3 403.7 852.8 415.7 852.8 C423.7 852.8 427.7 838.3 435.7 838.3 C445.9 838.3 451.0 864.9 461.2 864.9 C468.0 864.9 471.4 849.5 478.2 849.5 C489.0 849.5 494.4 874.7 505.2 874.7 C512.4 874.7 516.0 859.8 523.2 859.8 C533.3 859.8 538.3 886.3 548.4 886.3 C555.1 886.3 558.5 874.8 565.2 874.8 C574.3 874.8 578.9 900.3 588.0 900.3 C594.1 900.3 597.1 889.8 603.2 889.8 C612.8 889.8 617.6 915.8 627.2 915.8 C633.6 915.8 636.8 905.8 643.2 905.8 L643.2 1205.8 L108.2 1222.5Z" fill="#e4e4e4" stroke="none"/>
<path d="M108.2 922.5 C116.2 922.5 120.2 899.5 128.2 899.5 C135.1 899.5 138.5 908.4 145.4 908.4 C154.1 908.4 158.5 883.3 167.2 883.3 C173.5 883.3 176.7 892.8 183.0 892.8 C191.1 892.8 195.1 868.3 203.2 868.3 C209.0 868.3 211.9 878.0 217.7 878.0 C225.1 878.0 228.8 854.8 236.2 854.8 C242.4 854.8 245.4 863.5 251.6 863.5 C259.4 863.5 263.4 839.3 271.2 839.3 C277.5 839.3 280.7 854.0 287.0 854.0 C295.1 854.0 299.1 836.8 307.2 836.8 C314.4 836.8 318.0 851.0 325.2 851.0 C334.4 851.0 339.0 833.3 348.2 833.3 C356.0 833.3 359.9 848.3 367.7 848.3 C374.9 848.3 378.5 831.3 385.7 831.3 C397.7 831.3 403.7 852.8 415.7 852.8 C423.7 852.8 427.7 838.3 435.7 838.3 C445.9 838.3 451.0 864.9 461.2 864.9 C468.0 864.9 471.4 849.5 478.2 849.5 C489.0 849.5 494.4 874.7 505.2 874.7 C512.4 874.7 516.0 859.8 523.2 859.8 C533.3 859.8 538.3 886.3 548.4 886.3 C555.1 886.3 558.5 874.8 565.2 874.8 C574.3 874.8 578.9 900.3 588.0 900.3 C594.1 900.3 597.1 889.8 603.2 889.8 C612.8 889.8 617.6 915.8 627.2 915.8 C633.6 915.8 636.8 905.8 643.2 905.8 " fill="none"/>
<path d="M92.5 784.2 C95.2 782.4 102.1 790.6 104.9 792.5 C109.5 796.1 112.5 795.7 116.2 804.0 L122.2 829.8 L90.5 829.8 L90.5 784.2Z" fill="#dbdcdc" stroke="none"/>
<path d="M92.5 784.2 C95.2 782.4 102.1 790.6 104.9 792.5 C109.5 796.1 112.5 795.7 116.2 804.0" fill="none"/>
<path d="M143.0 793.5 C145.9 791.6 153.2 800.3 156.1 802.2 C160.9 806.1 164.1 805.6 167.9 814.3 L173.9 841.0 L141.0 841.0 L141.0 793.5Z" fill="#dbdcdc" stroke="none"/>
<path d="M143.0 793.5 C145.9 791.6 153.2 800.3 156.1 802.2 C160.9 806.1 164.1 805.6 167.9 814.3" fill="none"/>
<path d="M188.6 802.8 C191.6 800.8 199.2 809.9 202.2 811.9 C207.3 815.9 210.6 815.4 214.7 824.5 L220.7 852.2 L186.6 852.2 L186.6 802.8Z" fill="#dbdcdc" stroke="none"/>
<path d="M188.6 802.8 C191.6 800.8 199.2 809.9 202.2 811.9 C207.3 815.9 210.6 815.4 214.7 824.5" fill="none"/>
<path d="M236.7 813.4 C239.8 811.3 247.8 820.8 250.9 822.9 C256.2 827.1 259.7 826.6 263.9 836.1 L269.9 864.8 L234.7 864.8 L234.7 813.4Z" fill="#dbdcdc" stroke="none"/>
<path d="M236.7 813.4 C239.8 811.3 247.8 820.8 250.9 822.9 C256.2 827.1 259.7 826.6 263.9 836.1" fill="none"/>
<path d="M287.2 823.2 C290.6 821.0 298.8 830.9 302.1 833.1 C307.6 837.5 311.2 837.0 315.6 846.9 L321.6 876.5 L285.2 876.5 L285.2 823.2Z" fill="#dbdcdc" stroke="none"/>
<path d="M287.2 823.2 C290.6 821.0 298.8 830.9 302.1 833.1 C307.6 837.5 311.2 837.0 315.6 846.9" fill="none"/>
<path d="M341.6 835.8 C345.0 833.5 353.6 843.8 357.0 846.1 C362.8 850.7 366.5 850.1 371.1 860.4 L377.1 891.0 L339.6 891.0 L339.6 835.8Z" fill="#dbdcdc" stroke="none"/>
<path d="M341.6 835.8 C345.0 833.5 353.6 843.8 357.0 846.1 C362.8 850.7 366.5 850.1 371.1 860.4" fill="none"/>
<path d="M417.0 841.1 C414.1 838.3 413.2 844.0 409.4 846.9 C405.6 849.7 402.3 853.5 400.4 860.1 L395.4 878.5 L419.0 878.5 L419.0 841.1Z" fill="#e6e6e6" stroke="none"/>
<path d="M417.0 841.1 C414.1 838.3 413.2 844.0 409.4 846.9 C405.6 849.7 402.3 853.5 400.4 860.1" fill="none"/>
<path d="M449.9 824.1 C447.3 821.5 446.4 826.7 443.0 829.3 C439.5 831.9 436.5 835.3 434.8 841.3 L429.8 858.5 L451.9 858.5 L451.9 824.1Z" fill="#e6e6e6" stroke="none"/>
<path d="M449.9 824.1 C447.3 821.5 446.4 826.7 443.0 829.3 C439.5 831.9 436.5 835.3 434.8 841.3" fill="none"/>
<path d="M477.7 805.8 C475.4 803.5 474.6 808.2 471.5 810.5 C468.5 812.8 465.8 815.9 464.2 821.2 L459.2 837.2 L479.7 837.2 L479.7 805.8Z" fill="#e6e6e6" stroke="none"/>
<path d="M477.7 805.8 C475.4 803.5 474.6 808.2 471.5 810.5 C468.5 812.8 465.8 815.9 464.2 821.2" fill="none"/>
<path d="M504.3 791.3 C502.3 789.3 501.6 793.4 498.9 795.4 C496.1 797.4 493.8 800.1 492.4 804.9 L487.4 819.8 L506.3 819.8 L506.3 791.3Z" fill="#e6e6e6" stroke="none"/>
<path d="M504.3 791.3 C502.3 789.3 501.6 793.4 498.9 795.4 C496.1 797.4 493.8 800.1 492.4 804.9" fill="none"/>
<path d="M530.9 776.8 C529.1 775.0 528.5 778.6 526.2 780.3 C523.8 782.1 521.8 784.5 520.6 788.6 L515.6 802.2 L532.9 802.2 L532.9 776.8Z" fill="#e6e6e6" stroke="none"/>
<path d="M530.9 776.8 C529.1 775.0 528.5 778.6 526.2 780.3 C523.8 782.1 521.8 784.5 520.6 788.6" fill="none"/>
</g>
<path d="M385.5 831.2 C394.3 831.2 398.7 872.5 407.5 872.5 C413.5 872.5 416.5 815.0 422.5 815.0 C430.0 815.0 433.8 852.5 441.2 852.5 C446.8 852.5 449.5 796.2 455.0 796.2 C461.0 796.2 464.0 831.2 470.0 831.2 C475.5 831.2 478.2 782.5 483.8 782.5 C489.2 782.5 492.0 813.8 497.5 813.8 C503.5 813.8 506.5 767.5 512.5 767.5 C517.5 767.5 520.0 796.2 525.0 796.2 C529.5 796.2 531.8 750.0 536.2 750.0 C541 756 546 770 548.75 785 L548.75 820 L385.5 933.75Z" fill="url(#egr)"/>
<path d="M80 855 L78.6 795 C78.6 780 80.5 770.5 85 768.75 C93.5 768.8 97.8 823.8 106.2 823.8 C116.8 823.8 122.0 778.8 132.5 778.8 C142.5 778.8 147.5 835.0 157.5 835.0 C167.0 835.0 171.8 788.8 181.2 788.8 C190.2 788.8 194.8 846.2 203.8 846.2 C213.8 846.2 218.8 798.8 228.8 798.8 C238.2 798.8 243.0 858.8 252.5 858.8 C263.0 858.8 268.2 810.0 278.8 810.0 C288.8 810.0 293.8 870.5 303.8 870.5 C315.2 870.5 321.0 822.5 332.5 822.5 C343.0 822.5 348.2 885.0 358.8 885.0 C369.4 885.0 374.8 831.2 385.5 831.2 L385.5 933.75Z" fill="url(#egf)"/>
</g>
<g>
<path d="M809.8 647.5 Q809.5 638.0 811.2 636.8 Q813.0 635.5 814.2 636.2 Q815.5 637.0 815.2 646.5 Q815.0 656.0 812.5 656.5 Q810.0 657.0 809.8 647.5 Z" fill="url(#cd)" fill-rule="evenodd"/>
<path d="M884.0 655.5 Q883.0 652.0 885.0 651.0 Q887.0 650.0 889.0 651.5 Q891.0 653.0 890.5 655.5 Q890.0 658.0 887.5 658.5 Q885.0 659.0 884.0 655.5 Z" fill="url(#cd)"/>
<path d="M791.0 695.0 Q790.0 677.0 794.0 679.0 Q798.0 681.0 802.0 677.0 Q806.0 673.0 809.0 670.5 Q812.0 668.0 813.5 679.0 Q815.0 690.0 814.0 703.0 Q813.0 716.0 807.0 717.5 Q801.0 719.0 796.5 716.0 Q792.0 713.0 791.0 695.0 Z M795.2 697.0 Q795.0 694.0 798.5 693.2 Q802.0 692.5 805.5 693.8 Q809.0 695.0 808.8 697.8 Q808.5 700.5 804.8 701.2 Q801.0 702.0 798.2 701.0 Q795.5 700.0 795.2 697.0 Z" fill="url(#cd)" fill-rule="evenodd"/>
<path d="M834.5 679.0 Q836.0 668.0 840.5 664.5 Q845.0 661.0 851.5 662.5 Q858.0 664.0 863.0 668.0 Q868.0 672.0 872.0 681.0 Q876.0 690.0 875.0 698.0 Q874.0 706.0 868.0 711.0 Q862.0 716.0 855.0 716.0 Q848.0 716.0 843.0 711.0 Q838.0 706.0 835.5 698.0 Q833.0 690.0 834.5 679.0 Z" fill="url(#cm)" fill-rule="evenodd"/>
<path d="M853.7 625.0 C856.5 631.1 858.0 652.3 860.5 662.9 C860.1 665.2 857.2 665.8 854.4 666.0 C850.8 665.8 847.5 665.2 847.5 662.9 C849.7 652.3 851.1 631.1 853.7 625.0Z" fill="url(#cd)"/>
<path d="M864.0 686.5 Q862.0 672.0 867.0 669.5 Q872.0 667.0 875.5 670.0 Q879.0 673.0 881.5 678.5 Q884.0 684.0 887.2 687.0 Q890.5 690.0 888.8 693.5 Q887.0 697.0 883.0 699.5 Q879.0 702.0 876.5 705.0 Q874.0 708.0 870.0 704.5 Q866.0 701.0 864.0 686.5 Z" fill="url(#cd)" fill-rule="evenodd"/>
<path d="M869.0 684.0 Q870.0 668.0 875.0 672.0 Q880.0 676.0 883.0 680.0 Q886.0 684.0 888.0 687.0 Q890.0 690.0 887.0 692.0 Q884.0 694.0 880.0 696.5 Q876.0 699.0 872.0 699.5 Q868.0 700.0 869.0 684.0 Z" fill="url(#cd)"/>
<path d="M818.0 634.3 C825.8 642.1 829.9 669.5 836.6 683.2 C837.2 688.5 829.1 689.8 820.9 689.2 C814.2 689.8 807.3 688.5 806.7 683.2 C810.8 669.5 813.3 642.1 818.0 634.3Z" fill="url(#cg)"/><path d="M818.0 634.3 C825.8 642.1 829.9 669.5 836.6 683.2 C837.2 688.5 829.1 689.8 820.9 689.2 C814.2 689.8 807.3 688.5 806.7 683.2 C810.8 669.5 813.3 642.1 818.0 634.3Z" fill="url(#csh)"/>
<path d="M783.3 643.0 C790.9 649.8 794.8 673.7 801.3 685.7 C801.7 691.9 792.5 693.4 784.3 693.3 C775.1 693.4 766.0 691.9 766.3 685.7 C772.4 673.7 776.2 649.8 783.3 643.0Z" fill="url(#cc)"/><path d="M783.3 643.0 C790.9 649.8 794.8 673.7 801.3 685.7 C801.7 691.9 792.5 693.4 784.3 693.3 C775.1 693.4 766.0 691.9 766.3 685.7 C772.4 673.7 776.2 649.8 783.3 643.0Z" fill="url(#csh)"/>
<path d="M739.5 688.0 C742.0 689.5 743.3 694.5 745.4 697.1 C745.1 698.5 742.7 698.8 740.1 698.6 C737.3 698.8 734.7 698.5 734.6 697.1 C736.4 694.5 737.4 689.5 739.5 688.0Z" fill="url(#cd)"/>
<path d="M858.7 632.4 C871.0 641.6 877.4 673.8 887.9 689.9 C888.4 698.6 875.2 700.8 863.4 701.3 C849.8 700.8 836.6 698.6 837.1 689.9 C844.9 673.8 849.6 641.6 858.7 632.4Z" fill="url(#cg)"/><path d="M858.7 632.4 C871.0 641.6 877.4 673.8 887.9 689.9 C888.4 698.6 875.2 700.8 863.4 701.3 C849.8 700.8 836.6 698.6 837.1 689.9 C844.9 673.8 849.6 641.6 858.7 632.4Z" fill="url(#csh)"/>
<path d="M939.2 684.2 C943.1 688.2 945.2 702.4 948.6 709.5 C948.6 712.1 944.8 712.8 940.6 712.2 C937.2 712.8 933.6 712.1 933.4 709.5 C935.5 702.4 936.8 688.2 939.2 684.2Z" fill="url(#cd)"/>
<path d="M826.3 648.5 C842.2 657.7 850.5 689.8 864.1 705.9 C864.4 714.6 849.8 716.8 836.2 716.4 C821.2 716.8 807.5 714.6 806.9 705.9 C813.9 689.8 818.1 657.7 826.3 648.5Z" fill="url(#cY)"/><path d="M826.3 648.5 C842.2 657.7 850.5 689.8 864.1 705.9 C864.4 714.6 849.8 716.8 836.2 716.4 C821.2 716.8 807.5 714.6 806.9 705.9 C813.9 689.8 818.1 657.7 826.3 648.5Z" fill="url(#csh)"/>
<path d="M788.0 683.3 C794.4 688.3 797.7 706.0 803.1 714.8 C803.5 719.6 795.6 720.8 788.6 720.8 C780.4 720.8 772.6 719.6 772.9 714.8 C778.3 706.0 781.6 688.3 788.0 683.3Z" fill="url(#cb)"/><path d="M788.0 683.3 C794.4 688.3 797.7 706.0 803.1 714.8 C803.5 719.6 795.6 720.8 788.6 720.8 C780.4 720.8 772.6 719.6 772.9 714.8 C778.3 706.0 781.6 688.3 788.0 683.3Z" fill="url(#csh)"/>
<path d="M964.0 721.0 Q963.0 716.0 965.0 715.5 Q967.0 715.0 968.0 719.5 Q969.0 724.0 967.0 725.0 Q965.0 726.0 964.0 721.0 Z" fill="url(#cd)"/>
<path d="M979.2 700.8 C982.6 704.1 984.4 715.7 987.3 721.4 C987.9 724.3 983.2 725.0 978.3 725.3 C975.2 725.0 971.1 724.3 971.1 721.4 C974.0 715.7 975.8 704.1 979.2 700.8Z" fill="url(#cd)"/>
<path d="M746.3 687.0 C753.0 692.6 756.5 712.2 762.2 721.9 C761.9 727.3 754.2 728.6 745.5 728.5 C738.3 728.6 729.9 727.3 730.3 721.9 C736.1 712.2 739.6 692.6 746.3 687.0Z" fill="url(#cb)"/><path d="M746.3 687.0 C753.0 692.6 756.5 712.2 762.2 721.9 C761.9 727.3 754.2 728.6 745.5 728.5 C738.3 728.6 729.9 727.3 730.3 721.9 C736.1 712.2 739.6 692.6 746.3 687.0Z" fill="url(#csh)"/>
<path d="M946.7 682.4 C953.6 689.4 957.2 713.9 963.1 726.1 C962.5 731.5 955.6 732.8 947.2 732.7 C940.4 732.8 933.1 731.5 932.9 726.1 C937.9 713.9 940.9 689.4 946.7 682.4Z" fill="url(#cc)"/><path d="M946.7 682.4 C953.6 689.4 957.2 713.9 963.1 726.1 C962.5 731.5 955.6 732.8 947.2 732.7 C940.4 732.8 933.1 731.5 932.9 726.1 C937.9 713.9 940.9 689.4 946.7 682.4Z" fill="url(#csh)"/>
<path d="M705.2 697.2 C711.6 702.2 714.9 719.8 720.3 728.6 C719.9 733.0 714.1 734.1 708.5 734.4 C701.6 734.1 695.1 733.0 695.4 728.6 C698.9 719.8 701.1 702.2 705.2 697.2Z" fill="url(#cb)"/><path d="M705.2 697.2 C711.6 702.2 714.9 719.8 720.3 728.6 C719.9 733.0 714.1 734.1 708.5 734.4 C701.6 734.1 695.1 733.0 695.4 728.6 C698.9 719.8 701.1 702.2 705.2 697.2Z" fill="url(#csh)"/>
<path d="M868.9 702.8 C875.7 708.3 879.2 727.4 885.0 736.9 C885.3 742.1 876.2 743.4 866.9 743.0 C858.8 743.4 850.1 742.1 850.0 736.9 C856.8 727.4 861.0 708.3 868.9 702.8Z" fill="url(#cb)"/><path d="M868.9 702.8 C875.7 708.3 879.2 727.4 885.0 736.9 C885.3 742.1 876.2 743.4 866.9 743.0 C858.8 743.4 850.1 742.1 850.0 736.9 C856.8 727.4 861.0 708.3 868.9 702.8Z" fill="url(#csh)"/>
<path d="M827.8 687.0 C836.3 695.6 840.8 725.7 848.0 740.8 C847.9 747.2 838.9 748.8 830.7 749.2 C820.8 748.8 811.3 747.2 811.7 740.8 C817.5 725.7 821.0 695.6 827.8 687.0Z" fill="url(#cc)"/><path d="M827.8 687.0 C836.3 695.6 840.8 725.7 848.0 740.8 C847.9 747.2 838.9 748.8 830.7 749.2 C820.8 748.8 811.3 747.2 811.7 740.8 C817.5 725.7 821.0 695.6 827.8 687.0Z" fill="url(#csh)"/>
<path d="M868.0 748.0 Q866.0 744.0 869.0 742.5 Q872.0 741.0 876.0 743.5 Q880.0 746.0 882.0 749.0 Q884.0 752.0 881.0 753.5 Q878.0 755.0 874.0 753.5 Q870.0 752.0 868.0 748.0 Z" fill="url(#cd)"/>
<path d="M907.8 698.0 C915.5 705.4 919.5 731.2 926.1 744.1 C926.2 749.5 918.6 750.8 910.7 751.2 C903.4 750.8 895.6 749.5 895.9 744.1 C900.2 731.2 902.8 705.4 907.8 698.0Z" fill="url(#cc)"/><path d="M907.8 698.0 C915.5 705.4 919.5 731.2 926.1 744.1 C926.2 749.5 918.6 750.8 910.7 751.2 C903.4 750.8 895.6 749.5 895.9 744.1 C900.2 731.2 902.8 705.4 907.8 698.0Z" fill="url(#csh)"/>
<path d="M994.2 721.7 C996.3 726.1 997.5 741.3 999.3 748.9 C999.4 753.1 992.5 754.1 986.6 754.0 C979.0 754.1 972.6 753.1 972.3 748.9 C980.2 741.3 985.0 726.1 994.2 721.7Z" fill="url(#cb)"/><path d="M994.2 721.7 C996.3 726.1 997.5 741.3 999.3 748.9 C999.4 753.1 992.5 754.1 986.6 754.0 C979.0 754.1 972.6 753.1 972.3 748.9 C980.2 741.3 985.0 726.1 994.2 721.7Z" fill="url(#csh)"/>
<path d="M792.6 706.5 C799.7 713.0 803.4 735.5 809.4 746.8 C809.2 753.0 799.7 754.5 789.3 754.7 C780.3 754.5 770.0 753.0 770.6 746.8 C778.5 735.5 783.3 713.0 792.6 706.5Z" fill="url(#cc)"/><path d="M792.6 706.5 C799.7 713.0 803.4 735.5 809.4 746.8 C809.2 753.0 799.7 754.5 789.3 754.7 C780.3 754.5 770.0 753.0 770.6 746.8 C778.5 735.5 783.3 713.0 792.6 706.5Z" fill="url(#csh)"/>
<path d="M751.9 706.5 C760.9 713.5 765.6 737.9 773.4 750.1 C773.5 756.6 764.2 758.2 755.5 758.6 C745.8 758.2 737.2 756.6 736.6 750.1 C742.1 737.9 745.5 713.5 751.9 706.5Z" fill="url(#cc)"/><path d="M751.9 706.5 C760.9 713.5 765.6 737.9 773.4 750.1 C773.5 756.6 764.2 758.2 755.5 758.6 C745.8 758.2 737.2 756.6 736.6 750.1 C742.1 737.9 745.5 713.5 751.9 706.5Z" fill="url(#csh)"/>
<path d="M955.0 692.6 C960.5 702.2 963.4 735.9 968.2 752.8 C968.3 758.4 960.2 759.8 952.5 760.2 C944.2 759.8 935.9 758.4 936.2 752.8 C943.0 735.9 947.1 702.2 955.0 692.6Z" fill="url(#cg)"/><path d="M955.0 692.6 C960.5 702.2 963.4 735.9 968.2 752.8 C968.3 758.4 960.2 759.8 952.5 760.2 C944.2 759.8 935.9 758.4 936.2 752.8 C943.0 735.9 947.1 702.2 955.0 692.6Z" fill="url(#csh)"/>
<path d="M707.4 712.0 C714.8 719.1 718.6 743.8 725.0 756.1 C725.5 760.7 718.5 761.8 712.9 761.3 C705.5 761.8 698.5 760.7 699.0 756.1 C702.0 743.8 703.9 719.1 707.4 712.0Z" fill="url(#cc)"/><path d="M707.4 712.0 C714.8 719.1 718.6 743.8 725.0 756.1 C725.5 760.7 718.5 761.8 712.9 761.3 C705.5 761.8 698.5 760.7 699.0 756.1 C702.0 743.8 703.9 719.1 707.4 712.0Z" fill="url(#csh)"/>
<path d="M921.7 689.8 C932.7 700.3 938.5 737.0 947.9 755.3 C947.4 764.5 934.9 766.8 921.2 766.6 C908.7 766.8 896.1 764.5 895.7 755.3 C905.0 737.0 910.8 700.3 921.7 689.8Z" fill="url(#cY)"/><path d="M921.7 689.8 C932.7 700.3 938.5 737.0 947.9 755.3 C947.4 764.5 934.9 766.8 921.2 766.6 C908.7 766.8 896.1 764.5 895.7 755.3 C905.0 737.0 910.8 700.3 921.7 689.8Z" fill="url(#csh)"/>
<path d="M815.5 764.0 Q815.0 758.0 817.5 756.0 Q820.0 754.0 824.5 755.5 Q829.0 757.0 832.5 754.5 Q836.0 752.0 839.5 755.0 Q843.0 758.0 846.5 762.0 Q850.0 766.0 854.0 770.5 Q858.0 775.0 859.0 777.5 Q860.0 780.0 856.5 781.0 Q853.0 782.0 849.0 780.0 Q845.0 778.0 841.5 777.5 Q838.0 777.0 834.0 777.5 Q830.0 778.0 826.0 777.0 Q822.0 776.0 819.0 773.0 Q816.0 770.0 815.5 764.0 Z" fill="url(#cd)"/>
<path d="M669.4 744.0 C674.8 747.3 677.6 759.0 682.2 764.8 C682.1 768.0 677.5 768.8 672.9 769.3 C668.0 768.8 663.3 768.0 663.3 764.8 C665.5 759.0 666.8 747.3 669.4 744.0Z" fill="url(#cd)"/>
<path d="M877.2 727.8 C885.1 734.1 889.3 756.2 896.1 767.3 C896.3 773.3 887.3 774.8 879.0 775.3 C869.9 774.8 860.7 773.3 861.1 767.3 C866.9 756.2 870.4 734.1 877.2 727.8Z" fill="url(#cb)"/><path d="M877.2 727.8 C885.1 734.1 889.3 756.2 896.1 767.3 C896.3 773.3 887.3 774.8 879.0 775.3 C869.9 774.8 860.7 773.3 861.1 767.3 C866.9 756.2 870.4 734.1 877.2 727.8Z" fill="url(#csh)"/>
<path d="M1002.5 758.3 C1004.5 761.2 1005.6 771.4 1007.3 776.5 C1007.8 779.3 1003.2 780.0 998.5 780.1 C995.2 780.0 991.1 779.3 991.1 776.5 C995.2 771.4 997.7 761.2 1002.5 758.3Z" fill="url(#cd)"/>
<path d="M797.6 742.6 C803.9 747.7 807.2 765.5 812.6 774.4 C812.2 779.2 804.9 780.4 797.6 780.6 C789.4 780.4 782.2 779.2 781.7 774.4 C787.4 765.5 790.9 747.7 797.6 742.6Z" fill="url(#cb)"/><path d="M797.6 742.6 C803.9 747.7 807.2 765.5 812.6 774.4 C812.2 779.2 804.9 780.4 797.6 780.6 C789.4 780.4 782.2 779.2 781.7 774.4 C787.4 765.5 790.9 747.7 797.6 742.6Z" fill="url(#csh)"/>
<path d="M725.5 783.0 Q727.0 778.0 731.5 780.5 Q736.0 783.0 741.0 786.5 Q746.0 790.0 749.0 795.0 Q752.0 800.0 750.0 804.0 Q748.0 808.0 743.0 805.5 Q738.0 803.0 734.0 799.0 Q730.0 795.0 727.0 791.5 Q724.0 788.0 725.5 783.0 Z" fill="url(#cd)" fill-rule="evenodd"/>
<path d="M966.7 745.0 C974.2 745.0 976.7 760.4 978.8 782.0 C978.8 787.7 970.2 789.1 961.7 789.1 C953.1 789.1 944.5 787.7 944.5 782.0 C946.6 760.4 959.2 745.0 966.7 745.0Z" fill="url(#cc)"/><path d="M966.7 745.0 C974.2 745.0 976.7 760.4 978.8 782.0 C978.8 787.7 970.2 789.1 961.7 789.1 C953.1 789.1 944.5 787.7 944.5 782.0 C946.6 760.4 959.2 745.0 966.7 745.0Z" fill="url(#csh)"/>
<path d="M755.6 741.7 C763.9 748.2 768.3 770.7 775.4 782.0 C775.0 788.2 766.1 789.7 757.8 789.3 C747.7 789.7 738.7 788.2 738.4 782.0 C744.6 770.7 748.4 748.2 755.6 741.7Z" fill="url(#cb)"/><path d="M755.6 741.7 C763.9 748.2 768.3 770.7 775.4 782.0 C775.0 788.2 766.1 789.7 757.8 789.3 C747.7 789.7 738.7 788.2 738.4 782.0 C744.6 770.7 748.4 748.2 755.6 741.7Z" fill="url(#csh)"/>
<path d="M713.0 750.0 C722.0 755.8 726.7 776.2 734.5 786.5 C734.4 792.0 724.6 793.4 714.4 793.0 C704.7 793.4 695.3 792.0 694.8 786.5 C701.4 776.2 705.4 755.8 713.0 750.0Z" fill="url(#cb)"/><path d="M713.0 750.0 C722.0 755.8 726.7 776.2 734.5 786.5 C734.4 792.0 724.6 793.4 714.4 793.0 C704.7 793.4 695.3 792.0 694.8 786.5 C701.4 776.2 705.4 755.8 713.0 750.0Z" fill="url(#csh)"/>
<path d="M920.7 762.0 C928.4 762.0 934.8 774.5 936.9 792.1 C936.9 796.7 928.1 797.8 919.4 797.8 C910.5 797.8 901.7 796.7 901.7 792.1 C903.8 774.5 913.0 762.0 920.7 762.0Z" fill="url(#cb)"/><path d="M920.7 762.0 C928.4 762.0 934.8 774.5 936.9 792.1 C936.9 796.7 928.1 797.8 919.4 797.8 C910.5 797.8 901.7 796.7 901.7 792.1 C903.8 774.5 913.0 762.0 920.7 762.0Z" fill="url(#csh)"/>
<path d="M671.0 754.6 C679.0 760.8 683.2 782.4 690.1 793.1 C690.1 798.5 682.6 799.8 675.3 800.0 C667.4 799.8 659.5 798.5 659.9 793.1 C663.9 782.4 666.3 760.8 671.0 754.6Z" fill="url(#cb)"/><path d="M671.0 754.6 C679.0 760.8 683.2 782.4 690.1 793.1 C690.1 798.5 682.6 799.8 675.3 800.0 C667.4 799.8 659.5 798.5 659.9 793.1 C663.9 782.4 666.3 760.8 671.0 754.6Z" fill="url(#csh)"/>
<path d="M885.6 757.4 C892.3 763.2 895.9 783.6 901.6 793.9 C901.2 799.4 893.4 800.8 884.4 800.9 C876.8 800.8 868.2 799.4 868.6 793.9 C874.7 783.6 878.4 763.2 885.6 757.4Z" fill="url(#cc)"/><path d="M885.6 757.4 C892.3 763.2 895.9 783.6 901.6 793.9 C901.2 799.4 893.4 800.8 884.4 800.9 C876.8 800.8 868.2 799.4 868.6 793.9 C874.7 783.6 878.4 763.2 885.6 757.4Z" fill="url(#csh)"/>
<path d="M623.7 786.6 Q623.7 779.3 626.4 774.6 Q629.0 770.0 630.5 773.1 Q631.9 776.3 638.1 783.0 Q644.4 789.6 651.5 792.6 Q658.5 795.6 659.6 799.3 Q660.7 803.0 661.5 813.4 Q662.2 823.7 663.7 828.2 Q665.2 832.6 659.6 832.8 Q654.0 833.0 649.2 833.8 Q644.4 834.5 642.2 830.6 Q640.0 826.7 635.0 823.4 Q630.0 820.0 626.1 817.0 Q622.2 814.0 624.8 809.2 Q627.4 804.4 625.5 799.2 Q623.7 794.0 623.7 786.6 Z" fill="url(#cd)"/>
<path d="M798.0 804.8 Q796.0 802.5 798.0 802.2 Q800.0 802.0 803.8 804.5 Q807.5 807.0 806.8 808.2 Q806.0 809.5 803.0 808.2 Q800.0 807.0 798.0 804.8 Z" fill="url(#cd)"/>
<path d="M841.0 782.0 C846.7 782.0 855.4 792.1 857.0 806.2 C857.0 809.9 850.5 810.8 843.6 810.8 C837.4 810.8 830.9 809.9 830.9 806.2 C832.5 792.1 835.3 782.0 841.0 782.0Z" fill="url(#cb)"/><path d="M841.0 782.0 C846.7 782.0 855.4 792.1 857.0 806.2 C857.0 809.9 850.5 810.8 843.6 810.8 C837.4 810.8 830.9 809.9 830.9 806.2 C832.5 792.1 835.3 782.0 841.0 782.0Z" fill="url(#csh)"/>
<path d="M977.5 770.8 C981.0 777.0 982.8 798.8 985.7 809.8 C985.4 813.2 980.8 814.1 975.9 813.7 C970.9 814.1 966.4 813.2 966.0 809.8 C970.1 798.8 972.7 777.0 977.5 770.8Z" fill="url(#cb)"/><path d="M977.5 770.8 C981.0 777.0 982.8 798.8 985.7 809.8 C985.4 813.2 980.8 814.1 975.9 813.7 C970.9 814.1 966.4 813.2 966.0 809.8 C970.1 798.8 972.7 777.0 977.5 770.8Z" fill="url(#csh)"/>
<path d="M757.4 786.0 C764.6 786.0 772.2 797.0 774.2 812.3 C774.2 816.3 766.0 817.3 757.3 817.3 C749.6 817.3 741.4 816.3 741.4 812.3 C743.4 797.0 750.2 786.0 757.4 786.0Z" fill="url(#cb)"/><path d="M757.4 786.0 C764.6 786.0 772.2 797.0 774.2 812.3 C774.2 816.3 766.0 817.3 757.3 817.3 C749.6 817.3 741.4 816.3 741.4 812.3 C743.4 797.0 750.2 786.0 757.4 786.0Z" fill="url(#csh)"/>
<path d="M629.6 768.1 C636.2 775.5 639.6 801.5 645.2 814.5 C644.8 817.9 640.4 818.8 635.8 818.6 C630.6 818.8 625.4 817.9 625.8 814.5 C627.2 801.5 628.0 775.5 629.6 768.1Z" fill="url(#cy)"/><path d="M629.6 768.1 C636.2 775.5 639.6 801.5 645.2 814.5 C644.8 817.9 640.4 818.8 635.8 818.6 C630.6 818.8 625.4 817.9 625.8 814.5 C627.2 801.5 628.0 775.5 629.6 768.1Z" fill="url(#csh)"/>
<path d="M714.8 771.3 C723.8 778.8 728.5 805.2 736.2 818.4 C736.3 824.2 728.0 825.6 719.7 825.7 C711.6 825.6 703.0 824.2 703.4 818.4 C707.5 805.2 710.0 778.8 714.8 771.3Z" fill="url(#cc)"/><path d="M714.8 771.3 C723.8 778.8 728.5 805.2 736.2 818.4 C736.3 824.2 728.0 825.6 719.7 825.7 C711.6 825.6 703.0 824.2 703.4 818.4 C707.5 805.2 710.0 778.8 714.8 771.3Z" fill="url(#csh)"/>
<path d="M666.5 785.0 C672.1 785.0 681.9 799.6 683.4 821.2 C683.4 825.7 677.1 826.8 671.1 826.8 C664.4 826.8 658.1 825.7 658.1 821.2 C659.6 799.6 660.9 785.0 666.5 785.0Z" fill="url(#cc)"/><path d="M666.5 785.0 C672.1 785.0 681.9 799.6 683.4 821.2 C683.4 825.7 677.1 826.8 671.1 826.8 C664.4 826.8 658.1 825.7 658.1 821.2 C659.6 799.6 660.9 785.0 666.5 785.0Z" fill="url(#csh)"/>
<path d="M933.7 792.4 C936.7 797.1 938.3 813.7 940.9 822.0 C941.0 826.4 934.7 827.5 927.8 827.8 C922.3 827.5 915.8 826.4 916.1 822.0 C922.4 813.7 926.3 797.1 933.7 792.4Z" fill="url(#cc)"/><path d="M933.7 792.4 C936.7 797.1 938.3 813.7 940.9 822.0 C941.0 826.4 934.7 827.5 927.8 827.8 C922.3 827.5 915.8 826.4 916.1 822.0 C922.4 813.7 926.3 797.1 933.7 792.4Z" fill="url(#csh)"/>
<path d="M892.0 792.4 C900.0 798.4 904.1 819.3 910.9 829.7 C910.7 835.4 901.9 836.8 892.9 836.3 C884.0 836.8 874.8 835.4 875.0 829.7 C881.1 819.3 884.8 798.4 892.0 792.4Z" fill="url(#cc)"/><path d="M892.0 792.4 C900.0 798.4 904.1 819.3 910.9 829.7 C910.7 835.4 901.9 836.8 892.9 836.3 C884.0 836.8 874.8 835.4 875.0 829.7 C881.1 819.3 884.8 798.4 892.0 792.4Z" fill="url(#csh)"/>
<path d="M851.3 809.0 C857.9 809.0 864.3 820.0 866.1 835.4 C866.1 839.4 858.7 840.4 851.6 840.4 C843.7 840.4 836.3 839.4 836.3 835.4 C838.1 820.0 844.7 809.0 851.3 809.0Z" fill="url(#cb)"/><path d="M851.3 809.0 C857.9 809.0 864.3 820.0 866.1 835.4 C866.1 839.4 858.7 840.4 851.6 840.4 C843.7 840.4 836.3 839.4 836.3 835.4 C838.1 820.0 844.7 809.0 851.3 809.0Z" fill="url(#csh)"/>
<path d="M762.5 845.0 Q762.0 842.0 764.0 840.2 Q766.0 838.5 768.5 839.2 Q771.0 840.0 771.5 843.5 Q772.0 847.0 770.0 848.5 Q768.0 850.0 765.5 849.0 Q763.0 848.0 762.5 845.0 Z" fill="url(#cd)"/>
<path d="M699.5 849.0 Q700.0 845.0 703.5 841.5 Q707.0 838.0 713.5 836.5 Q720.0 835.0 725.0 837.5 Q730.0 840.0 731.5 844.0 Q733.0 848.0 730.5 851.5 Q728.0 855.0 721.5 854.0 Q715.0 853.0 710.0 855.0 Q705.0 857.0 702.0 855.0 Q699.0 853.0 699.5 849.0 Z" fill="url(#cd)"/>
<path d="M664.5 826.7 Q665.2 820.7 669.6 824.4 Q674.0 828.0 672.5 832.5 Q671.0 837.0 667.4 840.7 Q663.7 844.4 663.7 838.5 Q663.7 832.6 664.5 826.7 Z" fill="url(#cb)" fill-rule="evenodd"/>
<path d="M813.0 826.0 C817.0 826.0 821.3 833.6 822.4 844.3 C822.4 847.1 817.9 847.8 812.4 847.8 C808.8 847.8 804.3 847.1 804.3 844.3 C805.4 833.6 809.0 826.0 813.0 826.0Z" fill="url(#cd)"/>
<path d="M933.7 828.5 C937.0 831.5 938.7 842.2 941.6 847.5 C941.0 850.1 937.8 850.8 933.8 850.3 C930.2 850.8 926.7 850.1 926.4 847.5 C929.1 842.2 930.7 831.5 933.7 828.5Z" fill="url(#cb)"/><path d="M933.7 828.5 C937.0 831.5 938.7 842.2 941.6 847.5 C941.0 850.1 937.8 850.8 933.8 850.3 C930.2 850.8 926.7 850.1 926.4 847.5 C929.1 842.2 930.7 831.5 933.7 828.5Z" fill="url(#csh)"/>
<path d="M819.0 844.0 Q820.0 840.0 823.0 843.5 Q826.0 847.0 831.0 850.0 Q836.0 853.0 840.5 854.5 Q845.0 856.0 845.0 861.0 Q845.0 866.0 839.5 865.0 Q834.0 864.0 829.0 860.0 Q824.0 856.0 821.0 852.0 Q818.0 848.0 819.0 844.0 Z" fill="url(#cd)"/>
<path d="M939.0 836.0 C945.2 836.0 951.6 844.7 953.2 856.8 C953.2 860.0 946.2 860.8 939.2 860.8 C932.3 860.8 925.3 860.0 925.3 856.8 C926.9 844.7 932.8 836.0 939.0 836.0Z" fill="url(#cb)"/><path d="M939.0 836.0 C945.2 836.0 951.6 844.7 953.2 856.8 C953.2 860.0 946.2 860.8 939.2 860.8 C932.3 860.8 925.3 860.0 925.3 856.8 C926.9 844.7 932.8 836.0 939.0 836.0Z" fill="url(#csh)"/>
<path d="M679.6 806.3 C689.1 814.3 694.0 842.2 702.1 856.1 C702.6 861.5 694.6 862.8 687.4 863.1 C679.4 862.8 672.4 861.5 671.9 856.1 C674.7 842.2 676.4 814.3 679.6 806.3Z" fill="url(#cc)"/><path d="M679.6 806.3 C689.1 814.3 694.0 842.2 702.1 856.1 C702.6 861.5 694.6 862.8 687.4 863.1 C679.4 862.8 672.4 861.5 671.9 856.1 C674.7 842.2 676.4 814.3 679.6 806.3Z" fill="url(#csh)"/>
<path d="M900.4 823.9 C908.0 830.1 911.9 851.7 918.4 862.5 C918.9 868.3 908.9 869.8 899.2 869.9 C890.0 869.8 880.9 868.3 880.5 862.5 C887.7 851.7 892.0 830.1 900.4 823.9Z" fill="url(#cc)"/><path d="M900.4 823.9 C908.0 830.1 911.9 851.7 918.4 862.5 C918.9 868.3 908.9 869.8 899.2 869.9 C890.0 869.8 880.9 868.3 880.5 862.5 C887.7 851.7 892.0 830.1 900.4 823.9Z" fill="url(#csh)"/>
<path d="M816.0 837.8 C821.8 843.6 824.9 864.1 829.8 874.3 C829.7 878.3 824.1 879.3 818.5 879.7 C812.7 879.3 806.6 878.3 807.0 874.3 C810.2 864.1 812.2 843.6 816.0 837.8Z" fill="url(#cb)"/><path d="M816.0 837.8 C821.8 843.6 824.9 864.1 829.8 874.3 C829.7 878.3 824.1 879.3 818.5 879.7 C812.7 879.3 806.6 878.3 807.0 874.3 C810.2 864.1 812.2 843.6 816.0 837.8Z" fill="url(#csh)"/>
<path d="M856.9 835.0 C864.4 835.0 872.7 851.5 874.8 874.6 C874.8 880.6 866.3 882.1 858.0 882.1 C849.2 882.1 840.7 880.6 840.7 874.6 C842.8 851.5 849.4 835.0 856.9 835.0Z" fill="url(#cb)"/><path d="M856.9 835.0 C864.4 835.0 872.7 851.5 874.8 874.6 C874.8 880.6 866.3 882.1 858.0 882.1 C849.2 882.1 840.7 880.6 840.7 874.6 C842.8 851.5 849.4 835.0 856.9 835.0Z" fill="url(#csh)"/>
<path d="M730.6 846.0 C737.9 852.0 741.7 873.2 748.0 883.8 C748.6 887.6 742.5 888.6 736.1 888.9 C731.6 888.6 725.7 887.6 726.1 883.8 C727.7 873.2 728.7 852.0 730.6 846.0Z" fill="url(#cb)"/><path d="M730.6 846.0 C737.9 852.0 741.7 873.2 748.0 883.8 C748.6 887.6 742.5 888.6 736.1 888.9 C731.6 888.6 725.7 887.6 726.1 883.8 C727.7 873.2 728.7 852.0 730.6 846.0Z" fill="url(#csh)"/>
<path d="M770.0 871.0 C772.2 873.5 773.4 882.4 775.3 886.8 C775.2 888.4 773.1 888.8 770.8 888.7 C768.6 888.8 766.3 888.4 766.4 886.8 C767.7 882.4 768.5 873.5 770.0 871.0Z" fill="url(#cd)"/>
<path d="M906.9 860.0 C911.6 865.8 914.1 886.0 918.1 896.1 C917.9 901.2 910.8 902.5 903.4 902.4 C896.2 902.5 888.7 901.2 888.9 896.1 C895.4 886.0 899.3 865.8 906.9 860.0Z" fill="url(#cc)"/><path d="M906.9 860.0 C911.6 865.8 914.1 886.0 918.1 896.1 C917.9 901.2 910.8 902.5 903.4 902.4 C896.2 902.5 888.7 901.2 888.9 896.1 C895.4 886.0 899.3 865.8 906.9 860.0Z" fill="url(#csh)"/>
<path d="M866.0 875.7 C872.4 875.7 879.3 888.3 881.1 906.0 C881.1 910.6 873.8 911.8 865.9 911.8 C859.2 911.8 851.9 910.6 851.9 906.0 C853.7 888.3 859.6 875.7 866.0 875.7Z" fill="url(#cb)"/><path d="M866.0 875.7 C872.4 875.7 879.3 888.3 881.1 906.0 C881.1 910.6 873.8 911.8 865.9 911.8 C859.2 911.8 851.9 910.6 851.9 906.0 C853.7 888.3 859.6 875.7 866.0 875.7Z" fill="url(#csh)"/>
<path d="M784.0 913.5 Q782.0 905.0 791.0 908.5 Q800.0 912.0 809.0 910.0 Q818.0 908.0 822.0 913.0 Q826.0 918.0 820.5 921.5 Q815.0 925.0 807.5 924.5 Q800.0 924.0 793.0 923.0 Q786.0 922.0 784.0 913.5 Z" fill="url(#cd)"/>
<path d="M780.6 852.6 C789.7 862.8 794.5 898.3 802.3 916.1 C802.3 922.3 793.5 923.8 785.4 924.4 C776.0 923.8 766.9 922.3 767.2 916.1 C772.0 898.3 775.0 862.8 780.6 852.6Z" fill="url(#cy)"/><path d="M780.6 852.6 C789.7 862.8 794.5 898.3 802.3 916.1 C802.3 922.3 793.5 923.8 785.4 924.4 C776.0 923.8 766.9 922.3 767.2 916.1 C772.0 898.3 775.0 862.8 780.6 852.6Z" fill="url(#csh)"/>
<path d="M817.0 874.8 C823.8 881.7 827.4 905.7 833.2 917.7 C833.4 924.0 824.2 925.6 814.3 925.3 C806.2 925.6 796.8 924.0 797.2 917.7 C804.3 905.7 808.7 881.7 817.0 874.8Z" fill="url(#cc)"/><path d="M817.0 874.8 C823.8 881.7 827.4 905.7 833.2 917.7 C833.4 924.0 824.2 925.6 814.3 925.3 C806.2 925.6 796.8 924.0 797.2 917.7 C804.3 905.7 808.7 881.7 817.0 874.8Z" fill="url(#csh)"/>
<path d="M868.0 901.7 C876.8 908.2 881.3 930.8 888.8 942.1 C888.8 948.3 879.1 949.8 870.1 949.2 C859.6 949.8 849.6 948.3 849.9 942.1 C856.4 930.8 860.4 908.2 868.0 901.7Z" fill="url(#cc)"/><path d="M868.0 901.7 C876.8 908.2 881.3 930.8 888.8 942.1 C888.8 948.3 879.1 949.8 870.1 949.2 C859.6 949.8 849.6 948.3 849.9 942.1 C856.4 930.8 860.4 908.2 868.0 901.7Z" fill="url(#csh)"/>
<path d="M834.6 886.0 C842.1 895.6 846.1 929.1 852.6 945.9 C852.4 951.9 844.1 953.4 835.0 953.0 C827.0 953.4 819.0 951.9 818.5 945.9 C824.3 929.1 827.9 895.6 834.6 886.0Z" fill="url(#cy)"/><path d="M834.6 886.0 C842.1 895.6 846.1 929.1 852.6 945.9 C852.4 951.9 844.1 953.4 835.0 953.0 C827.0 953.4 819.0 951.9 818.5 945.9 C824.3 929.1 827.9 895.6 834.6 886.0Z" fill="url(#csh)"/>
<circle cx="607.4" cy="800.7" r="2.6" fill="#0a18a8"/><circle cx="681" cy="735" r="1.3" fill="#0a18a8"/><circle cx="604" cy="806" r="0.01" fill="#0a18a8"/>
</g>
</svg>
</body></html>
